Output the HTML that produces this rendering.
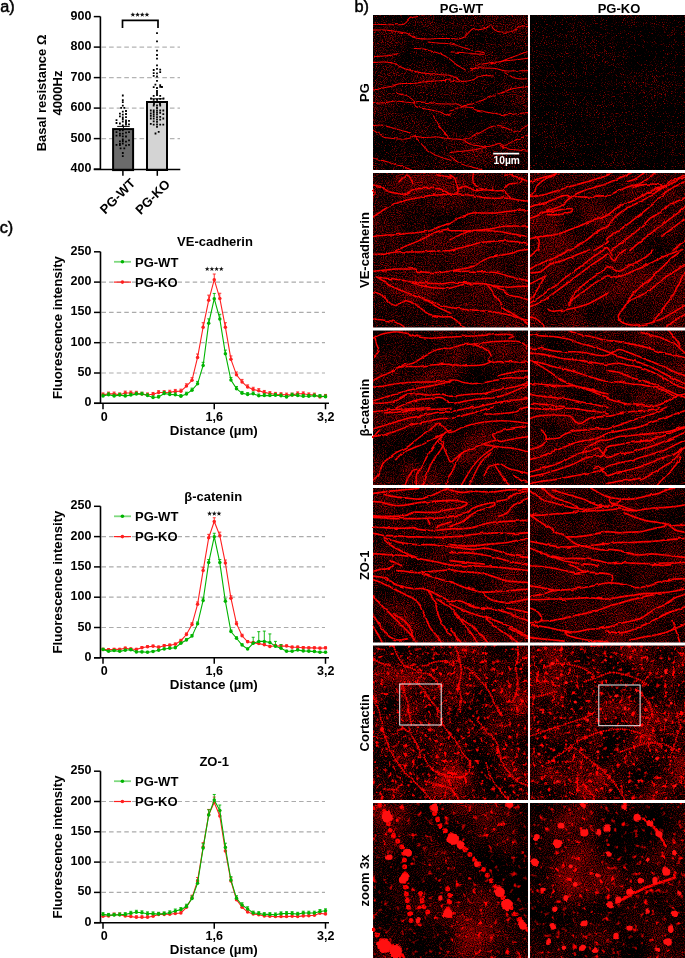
<!DOCTYPE html>
<html><head><meta charset="utf-8"><style>
html,body{margin:0;padding:0;background:#fff;width:685px;height:958px;overflow:hidden}
svg text{font-family:'Liberation Sans',sans-serif;fill:#000}
</style></head><body><svg width="685" height="958" viewBox="0 0 685 958" style="display:block;will-change:transform;font-family:'Liberation Sans',sans-serif;"><defs><filter id="lf" x="-5%" y="-5%" width="110%" height="110%" color-interpolation-filters="sRGB"><feTurbulence type="fractalNoise" baseFrequency="0.13" numOctaves="2" seed="11" result="w"/><feDisplacementMap in="SourceGraphic" in2="w" scale="2.6" xChannelSelector="R" yChannelSelector="G" result="d"/><feTurbulence type="fractalNoise" baseFrequency="0.7" numOctaves="1" seed="4" result="n"/><feColorMatrix in="n" type="matrix" values="0 0 0 0 0  0 0 0 0 0  0 0 0 0 0  2.0 0 0 0 0.05" result="na"/><feComposite in="d" in2="na" operator="in" result="b"/><feGaussianBlur in="b" stdDeviation="0.3"/></filter><filter id="bf" x="-5%" y="-5%" width="110%" height="110%" color-interpolation-filters="sRGB"><feTurbulence type="fractalNoise" baseFrequency="0.08" numOctaves="2" seed="17" result="w"/><feDisplacementMap in="SourceGraphic" in2="w" scale="5" xChannelSelector="R" yChannelSelector="G" result="d"/><feGaussianBlur in="d" stdDeviation="0.6"/></filter><filter id="n00" x="373" y="15" width="155" height="155" filterUnits="userSpaceOnUse" color-interpolation-filters="sRGB"><feTurbulence type="fractalNoise" baseFrequency="0.9" numOctaves="2" seed="1"/><feColorMatrix type="matrix" values="1 0 0 0 0  0 0 0 0 0  0 0 0 0 0  0 0 0 0 1" result="f"/><feTurbulence type="fractalNoise" baseFrequency="0.03" numOctaves="2" seed="4"/><feColorMatrix type="matrix" values="1 0 0 0 0  0 0 0 0 0  0 0 0 0 0  0 0 0 0 1" result="g"/><feComposite in="f" in2="g" operator="arithmetic" k1="0" k2="2.0" k3="0.6" k4="-1.3"/><feColorMatrix type="matrix" values="1 0 0 0 0  0 0 0 0 0  0 0 0 0 0  0 0 0 0 1" result="base"/></filter><filter id="n01" x="530" y="15" width="155" height="155" filterUnits="userSpaceOnUse" color-interpolation-filters="sRGB"><feTurbulence type="fractalNoise" baseFrequency="0.9" numOctaves="2" seed="8"/><feColorMatrix type="matrix" values="1 0 0 0 0  0 0 0 0 0  0 0 0 0 0  0 0 0 0 1" result="f"/><feTurbulence type="fractalNoise" baseFrequency="0.03" numOctaves="2" seed="11"/><feColorMatrix type="matrix" values="1 0 0 0 0  0 0 0 0 0  0 0 0 0 0  0 0 0 0 1" result="g"/><feComposite in="f" in2="g" operator="arithmetic" k1="0" k2="2.5" k3="0.4" k4="-1.65"/><feColorMatrix type="matrix" values="1 0 0 0 0  0 0 0 0 0  0 0 0 0 0  0 0 0 0 1" result="base"/></filter><filter id="n10" x="373" y="172.6" width="155" height="155" filterUnits="userSpaceOnUse" color-interpolation-filters="sRGB"><feTurbulence type="fractalNoise" baseFrequency="0.9" numOctaves="2" seed="15"/><feColorMatrix type="matrix" values="1 0 0 0 0  0 0 0 0 0  0 0 0 0 0  0 0 0 0 1" result="f"/><feTurbulence type="fractalNoise" baseFrequency="0.03" numOctaves="2" seed="18"/><feColorMatrix type="matrix" values="1 0 0 0 0  0 0 0 0 0  0 0 0 0 0  0 0 0 0 1" result="g"/><feComposite in="f" in2="g" operator="arithmetic" k1="0" k2="1.6" k3="0.6" k4="-0.95"/><feColorMatrix type="matrix" values="1 0 0 0 0  0 0 0 0 0  0 0 0 0 0  0 0 0 0 1" result="base"/></filter><filter id="n11" x="530" y="172.6" width="155" height="155" filterUnits="userSpaceOnUse" color-interpolation-filters="sRGB"><feTurbulence type="fractalNoise" baseFrequency="0.9" numOctaves="2" seed="22"/><feColorMatrix type="matrix" values="1 0 0 0 0  0 0 0 0 0  0 0 0 0 0  0 0 0 0 1" result="f"/><feTurbulence type="fractalNoise" baseFrequency="0.03" numOctaves="2" seed="25"/><feColorMatrix type="matrix" values="1 0 0 0 0  0 0 0 0 0  0 0 0 0 0  0 0 0 0 1" result="g"/><feComposite in="f" in2="g" operator="arithmetic" k1="0" k2="1.6" k3="0.6" k4="-0.95"/><feColorMatrix type="matrix" values="1 0 0 0 0  0 0 0 0 0  0 0 0 0 0  0 0 0 0 1" result="base"/></filter><filter id="n20" x="373" y="330.2" width="155" height="155" filterUnits="userSpaceOnUse" color-interpolation-filters="sRGB"><feTurbulence type="fractalNoise" baseFrequency="0.9" numOctaves="2" seed="29"/><feColorMatrix type="matrix" values="1 0 0 0 0  0 0 0 0 0  0 0 0 0 0  0 0 0 0 1" result="f"/><feTurbulence type="fractalNoise" baseFrequency="0.03" numOctaves="2" seed="32"/><feColorMatrix type="matrix" values="1 0 0 0 0  0 0 0 0 0  0 0 0 0 0  0 0 0 0 1" result="g"/><feComposite in="f" in2="g" operator="arithmetic" k1="0" k2="1.6" k3="0.8" k4="-1.11"/><feColorMatrix type="matrix" values="1 0 0 0 0  0 0 0 0 0  0 0 0 0 0  0 0 0 0 1" result="base"/></filter><filter id="n21" x="530" y="330.2" width="155" height="155" filterUnits="userSpaceOnUse" color-interpolation-filters="sRGB"><feTurbulence type="fractalNoise" baseFrequency="0.9" numOctaves="2" seed="36"/><feColorMatrix type="matrix" values="1 0 0 0 0  0 0 0 0 0  0 0 0 0 0  0 0 0 0 1" result="f"/><feTurbulence type="fractalNoise" baseFrequency="0.03" numOctaves="2" seed="39"/><feColorMatrix type="matrix" values="1 0 0 0 0  0 0 0 0 0  0 0 0 0 0  0 0 0 0 1" result="g"/><feComposite in="f" in2="g" operator="arithmetic" k1="0" k2="1.6" k3="0.6" k4="-0.98"/><feColorMatrix type="matrix" values="1 0 0 0 0  0 0 0 0 0  0 0 0 0 0  0 0 0 0 1" result="base"/></filter><filter id="n30" x="373" y="487.8" width="155" height="155" filterUnits="userSpaceOnUse" color-interpolation-filters="sRGB"><feTurbulence type="fractalNoise" baseFrequency="0.9" numOctaves="2" seed="43"/><feColorMatrix type="matrix" values="1 0 0 0 0  0 0 0 0 0  0 0 0 0 0  0 0 0 0 1" result="f"/><feTurbulence type="fractalNoise" baseFrequency="0.03" numOctaves="2" seed="46"/><feColorMatrix type="matrix" values="1 0 0 0 0  0 0 0 0 0  0 0 0 0 0  0 0 0 0 1" result="g"/><feComposite in="f" in2="g" operator="arithmetic" k1="0" k2="1.6" k3="0.6" k4="-0.98"/><feColorMatrix type="matrix" values="1 0 0 0 0  0 0 0 0 0  0 0 0 0 0  0 0 0 0 1" result="base"/></filter><filter id="n31" x="530" y="487.8" width="155" height="155" filterUnits="userSpaceOnUse" color-interpolation-filters="sRGB"><feTurbulence type="fractalNoise" baseFrequency="0.9" numOctaves="2" seed="50"/><feColorMatrix type="matrix" values="1 0 0 0 0  0 0 0 0 0  0 0 0 0 0  0 0 0 0 1" result="f"/><feTurbulence type="fractalNoise" baseFrequency="0.03" numOctaves="2" seed="53"/><feColorMatrix type="matrix" values="1 0 0 0 0  0 0 0 0 0  0 0 0 0 0  0 0 0 0 1" result="g"/><feComposite in="f" in2="g" operator="arithmetic" k1="0" k2="1.6" k3="0.6" k4="-0.98"/><feColorMatrix type="matrix" values="1 0 0 0 0  0 0 0 0 0  0 0 0 0 0  0 0 0 0 1" result="base"/></filter><filter id="n40" x="373" y="645.4" width="155" height="155" filterUnits="userSpaceOnUse" color-interpolation-filters="sRGB"><feTurbulence type="fractalNoise" baseFrequency="0.9" numOctaves="2" seed="57"/><feColorMatrix type="matrix" values="1 0 0 0 0  0 0 0 0 0  0 0 0 0 0  0 0 0 0 1" result="f"/><feTurbulence type="fractalNoise" baseFrequency="0.03" numOctaves="2" seed="60"/><feColorMatrix type="matrix" values="1 0 0 0 0  0 0 0 0 0  0 0 0 0 0  0 0 0 0 1" result="g"/><feComposite in="f" in2="g" operator="arithmetic" k1="0" k2="1.5" k3="1.2" k4="-1.21"/><feColorMatrix type="matrix" values="1 0 0 0 0  0 0 0 0 0  0 0 0 0 0  0 0 0 0 1" result="base"/><feTurbulence type="fractalNoise" baseFrequency="0.25" numOctaves="2" seed="62"/><feColorMatrix type="matrix" values="4.5 0 0 0 -2.61  0 0 0 0 0  0 0 0 0 0  0 0 0 0 1" result="d2"/><feComposite in="base" in2="d2" operator="arithmetic" k1="0" k2="1" k3="1" k4="0"/></filter><filter id="n41" x="530" y="645.4" width="155" height="155" filterUnits="userSpaceOnUse" color-interpolation-filters="sRGB"><feTurbulence type="fractalNoise" baseFrequency="0.9" numOctaves="2" seed="64"/><feColorMatrix type="matrix" values="1 0 0 0 0  0 0 0 0 0  0 0 0 0 0  0 0 0 0 1" result="f"/><feTurbulence type="fractalNoise" baseFrequency="0.03" numOctaves="2" seed="67"/><feColorMatrix type="matrix" values="1 0 0 0 0  0 0 0 0 0  0 0 0 0 0  0 0 0 0 1" result="g"/><feComposite in="f" in2="g" operator="arithmetic" k1="0" k2="1.5" k3="1.2" k4="-1.22"/><feColorMatrix type="matrix" values="1 0 0 0 0  0 0 0 0 0  0 0 0 0 0  0 0 0 0 1" result="base"/><feTurbulence type="fractalNoise" baseFrequency="0.25" numOctaves="2" seed="69"/><feColorMatrix type="matrix" values="4.5 0 0 0 -2.61  0 0 0 0 0  0 0 0 0 0  0 0 0 0 1" result="d2"/><feComposite in="base" in2="d2" operator="arithmetic" k1="0" k2="1" k3="1" k4="0"/></filter><filter id="n50" x="373" y="803" width="155" height="155" filterUnits="userSpaceOnUse" color-interpolation-filters="sRGB"><feTurbulence type="fractalNoise" baseFrequency="0.9" numOctaves="2" seed="71"/><feColorMatrix type="matrix" values="1 0 0 0 0  0 0 0 0 0  0 0 0 0 0  0 0 0 0 1" result="f"/><feTurbulence type="fractalNoise" baseFrequency="0.02" numOctaves="2" seed="74"/><feColorMatrix type="matrix" values="1 0 0 0 0  0 0 0 0 0  0 0 0 0 0  0 0 0 0 1" result="g"/><feComposite in="f" in2="g" operator="arithmetic" k1="0" k2="1.4" k3="1.0" k4="-1.11"/><feColorMatrix type="matrix" values="1 0 0 0 0  0 0 0 0 0  0 0 0 0 0  0 0 0 0 1" result="base"/><feTurbulence type="fractalNoise" baseFrequency="0.18" numOctaves="2" seed="76"/><feColorMatrix type="matrix" values="4.5 0 0 0 -2.79  0 0 0 0 0  0 0 0 0 0  0 0 0 0 1" result="d2"/><feComposite in="base" in2="d2" operator="arithmetic" k1="0" k2="1" k3="1" k4="0"/></filter><filter id="n51" x="530" y="803" width="155" height="155" filterUnits="userSpaceOnUse" color-interpolation-filters="sRGB"><feTurbulence type="fractalNoise" baseFrequency="0.9" numOctaves="2" seed="78"/><feColorMatrix type="matrix" values="1 0 0 0 0  0 0 0 0 0  0 0 0 0 0  0 0 0 0 1" result="f"/><feTurbulence type="fractalNoise" baseFrequency="0.02" numOctaves="2" seed="81"/><feColorMatrix type="matrix" values="1 0 0 0 0  0 0 0 0 0  0 0 0 0 0  0 0 0 0 1" result="g"/><feComposite in="f" in2="g" operator="arithmetic" k1="0" k2="1.4" k3="1.0" k4="-1.13"/><feColorMatrix type="matrix" values="1 0 0 0 0  0 0 0 0 0  0 0 0 0 0  0 0 0 0 1" result="base"/><feTurbulence type="fractalNoise" baseFrequency="0.18" numOctaves="2" seed="83"/><feColorMatrix type="matrix" values="4.5 0 0 0 -2.79  0 0 0 0 0  0 0 0 0 0  0 0 0 0 1" result="d2"/><feComposite in="base" in2="d2" operator="arithmetic" k1="0" k2="1" k3="1" k4="0"/></filter></defs><text x="0.3" y="11.8" style="font-size:16.3px;font-weight:normal;stroke:#000;stroke-width:0.5">a)</text><line x1="101.5" y1="138.6" x2="180" y2="138.6" stroke="#b4b4b4" stroke-width="1.2" stroke-dasharray="4.6 3" /><line x1="101.5" y1="108.1" x2="180" y2="108.1" stroke="#b4b4b4" stroke-width="1.2" stroke-dasharray="4.6 3" /><line x1="101.5" y1="77.6" x2="180" y2="77.6" stroke="#b4b4b4" stroke-width="1.2" stroke-dasharray="4.6 3" /><line x1="101.5" y1="47.1" x2="180" y2="47.1" stroke="#b4b4b4" stroke-width="1.2" stroke-dasharray="4.6 3" /><rect x="113.1" y="129.1" width="20" height="41" fill="#6b6b6b" stroke="#000" stroke-width="2"/><rect x="147" y="102" width="20" height="68" fill="#d4d4d4" stroke="#000" stroke-width="2"/><path d="M117.2 126.4H129.7M123.4 126.4V128" stroke="#000" stroke-width="1"/><path d="M150.4 98.8H164.1M157.2 98.8V101" stroke="#000" stroke-width="1"/><path d="M100.4 16.6V170.2M93.8 169.5H180.3" stroke="#000" stroke-width="1.6" fill="none"/><line x1="93.8" y1="169.1" x2="100.4" y2="169.1" stroke="#000" stroke-width="1.5"/><text x="91.4" y="172.1" text-anchor="end" style="font-size:12.5px;font-weight:bold">400</text><line x1="93.8" y1="138.6" x2="100.4" y2="138.6" stroke="#000" stroke-width="1.5"/><text x="91.4" y="141.6" text-anchor="end" style="font-size:12.5px;font-weight:bold">500</text><line x1="93.8" y1="108.1" x2="100.4" y2="108.1" stroke="#000" stroke-width="1.5"/><text x="91.4" y="111.1" text-anchor="end" style="font-size:12.5px;font-weight:bold">600</text><line x1="93.8" y1="77.6" x2="100.4" y2="77.6" stroke="#000" stroke-width="1.5"/><text x="91.4" y="80.6" text-anchor="end" style="font-size:12.5px;font-weight:bold">700</text><line x1="93.8" y1="47.1" x2="100.4" y2="47.1" stroke="#000" stroke-width="1.5"/><text x="91.4" y="50.1" text-anchor="end" style="font-size:12.5px;font-weight:bold">800</text><line x1="93.8" y1="16.6" x2="100.4" y2="16.6" stroke="#000" stroke-width="1.5"/><text x="91.4" y="19.6" text-anchor="end" style="font-size:12.5px;font-weight:bold">900</text><line x1="122.9" y1="169.5" x2="122.9" y2="175.8" stroke="#000" stroke-width="1.5"/><line x1="157.3" y1="169.5" x2="157.3" y2="175.8" stroke="#000" stroke-width="1.5"/><text transform="translate(136,184) rotate(-45)" text-anchor="end" style="font-size:13px;font-weight:bold">PG-WT</text><text transform="translate(170.8,185) rotate(-45)" text-anchor="end" style="font-size:13px;font-weight:bold">PG-KO</text><text transform="translate(46.2,93) rotate(-90)" text-anchor="middle" style="font-size:13px;font-weight:bold">Basal resistance Ω</text><text transform="translate(61.5,93) rotate(-90)" text-anchor="middle" style="font-size:13px;font-weight:bold">4000Hz</text><path d="M122.5 28V20.3H158V28" stroke="#000" stroke-width="1.7" fill="none"/><polygon points="132.85,12.15 133.47,13.85 135.28,13.91 133.85,15.02 134.35,16.76 132.85,15.75 131.35,16.76 131.85,15.02 130.42,13.91 132.23,13.85" fill="#111"/><polygon points="137.55,12.15 138.17,13.85 139.98,13.91 138.55,15.02 139.05,16.76 137.55,15.75 136.05,16.76 136.55,15.02 135.12,13.91 136.93,13.85" fill="#111"/><polygon points="142.25,12.15 142.87,13.85 144.68,13.91 143.25,15.02 143.75,16.76 142.25,15.75 140.75,16.76 141.25,15.02 139.82,13.91 141.63,13.85" fill="#111"/><polygon points="146.95,12.15 147.57,13.85 149.38,13.91 147.95,15.02 148.45,16.76 146.95,15.75 145.45,16.76 145.95,15.02 144.52,13.91 146.33,13.85" fill="#111"/><path d="M121.9 94.6h1.8v1.8h-1.8zM121.9 99.2h1.8v1.8h-1.8zM121.9 101.2h1.8v1.8h-1.8zM121.9 104.8h1.8v1.8h-1.8zM121.9 110.7h1.8v1.8h-1.8zM121.9 113.8h1.8v1.8h-1.8zM121.9 116.5h1.8v1.8h-1.8zM121.9 118.2h1.8v1.8h-1.8zM121.9 120.6h1.8v1.8h-1.8zM121.9 124.6h1.8v1.8h-1.8zM121.9 129.4h1.8v1.8h-1.8zM121.9 132.8h1.8v1.8h-1.8zM121.9 135.5h1.8v1.8h-1.8zM121.9 138.6h1.8v1.8h-1.8zM121.9 140.3h1.8v1.8h-1.8zM121.9 142.6h1.8v1.8h-1.8zM121.9 152.1h1.8v1.8h-1.8zM121.9 155.2h1.8v1.8h-1.8zM125.1 110.1h1.8v1.8h-1.8zM125.1 113.1h1.8v1.8h-1.8zM125.1 116.2h1.8v1.8h-1.8zM125.1 119.6h1.8v1.8h-1.8zM125.1 121.6h1.8v1.8h-1.8zM125.1 123.6h1.8v1.8h-1.8zM125.1 131.8h1.8v1.8h-1.8zM125.1 135.6h1.8v1.8h-1.8zM125.1 140.8h1.8v1.8h-1.8zM125.1 144.5h1.8v1.8h-1.8zM119 112.8h1.8v1.8h-1.8zM119 115.5h1.8v1.8h-1.8zM119 122.6h1.8v1.8h-1.8zM119 129.4h1.8v1.8h-1.8zM119 132.7h1.8v1.8h-1.8zM119 134.7h1.8v1.8h-1.8zM119 140.4h1.8v1.8h-1.8zM119 143h1.8v1.8h-1.8zM119 144.3h1.8v1.8h-1.8zM115.6 119.2h1.8v1.8h-1.8zM115.6 122.1h1.8v1.8h-1.8zM115.6 131.3h1.8v1.8h-1.8zM115.6 134.7h1.8v1.8h-1.8zM115.6 144h1.8v1.8h-1.8zM128.1 119.9h1.8v1.8h-1.8zM128.1 123.4h1.8v1.8h-1.8zM128.1 131.3h1.8v1.8h-1.8zM128.1 139.4h1.8v1.8h-1.8zM128.1 144h1.8v1.8h-1.8zM120.3 106.9h1.8v1.8h-1.8zM123.4 106.9h1.8v1.8h-1.8zM119.7 147.4h1.8v1.8h-1.8zM123.4 147.4h1.8v1.8h-1.8zM156.1 32.2h1.8v1.8h-1.8zM156.1 40.4h1.8v1.8h-1.8zM156.1 49.8h1.8v1.8h-1.8zM156.1 54.1h1.8v1.8h-1.8zM156.1 57.7h1.8v1.8h-1.8zM156.1 64.5h1.8v1.8h-1.8zM156.1 67.9h1.8v1.8h-1.8zM156.1 72.5h1.8v1.8h-1.8zM156.1 75.6h1.8v1.8h-1.8zM156.1 80h1.8v1.8h-1.8zM156.1 87.1h1.8v1.8h-1.8zM156.1 90h1.8v1.8h-1.8zM156.1 91.3h1.8v1.8h-1.8zM156.1 92.9h1.8v1.8h-1.8zM156.1 94.2h1.8v1.8h-1.8zM156.1 98.8h1.8v1.8h-1.8zM156.1 104.6h1.8v1.8h-1.8zM156.1 107.1h1.8v1.8h-1.8zM156.1 109.6h1.8v1.8h-1.8zM156.1 111.7h1.8v1.8h-1.8zM156.1 113.8h1.8v1.8h-1.8zM156.1 116.3h1.8v1.8h-1.8zM156.1 118.6h1.8v1.8h-1.8zM156.1 120.9h1.8v1.8h-1.8zM156.1 123.6h1.8v1.8h-1.8zM156.1 125.9h1.8v1.8h-1.8zM152.8 69.1h1.8v1.8h-1.8zM152.8 72.3h1.8v1.8h-1.8zM152.8 75h1.8v1.8h-1.8zM152.8 86.3h1.8v1.8h-1.8zM152.8 95h1.8v1.8h-1.8zM152.8 99h1.8v1.8h-1.8zM152.8 104.6h1.8v1.8h-1.8zM152.8 109.6h1.8v1.8h-1.8zM152.8 111.3h1.8v1.8h-1.8zM152.8 113.2h1.8v1.8h-1.8zM152.8 115.2h1.8v1.8h-1.8zM152.8 117.6h1.8v1.8h-1.8zM152.8 120.5h1.8v1.8h-1.8zM152.8 123.8h1.8v1.8h-1.8zM159.3 68.7h1.8v1.8h-1.8zM159.3 71.2h1.8v1.8h-1.8zM159.3 84.2h1.8v1.8h-1.8zM159.3 86h1.8v1.8h-1.8zM159.3 94.9h1.8v1.8h-1.8zM159.3 97.9h1.8v1.8h-1.8zM159.3 104.6h1.8v1.8h-1.8zM159.3 109.6h1.8v1.8h-1.8zM159.3 111.9h1.8v1.8h-1.8zM159.3 115.9h1.8v1.8h-1.8zM159.3 118.8h1.8v1.8h-1.8zM159.3 123.8h1.8v1.8h-1.8zM149.9 109.6h1.8v1.8h-1.8zM149.9 112.6h1.8v1.8h-1.8zM149.9 114.9h1.8v1.8h-1.8zM149.9 117.6h1.8v1.8h-1.8zM149.9 123h1.8v1.8h-1.8zM162.4 109.6h1.8v1.8h-1.8zM162.4 113.2h1.8v1.8h-1.8zM162.4 117.6h1.8v1.8h-1.8zM162.4 123.8h1.8v1.8h-1.8zM154.5 83.7h1.8v1.8h-1.8zM161.1 86.1h1.8v1.8h-1.8zM154.6 132.6h1.8v1.8h-1.8zM157.8 130.9h1.8v1.8h-1.8zM150.1 97.6h1.8v1.8h-1.8zM162.6 97.6h1.8v1.8h-1.8zM153.1 103.1h1.8v1.8h-1.8zM159.1 103.1h1.8v1.8h-1.8z" fill="#000"/><text x="-0.3" y="232.7" style="font-size:16.3px;font-weight:normal;stroke:#000;stroke-width:0.5">c)</text><line x1="101.5" y1="373" x2="325" y2="373" stroke="#ababab" stroke-width="1.2" stroke-dasharray="4.5 3.1" /><line x1="101.5" y1="342.7" x2="325" y2="342.7" stroke="#ababab" stroke-width="1.2" stroke-dasharray="4.5 3.1" /><line x1="101.5" y1="312.4" x2="325" y2="312.4" stroke="#ababab" stroke-width="1.2" stroke-dasharray="4.5 3.1" /><line x1="101.5" y1="282.1" x2="325" y2="282.1" stroke="#ababab" stroke-width="1.2" stroke-dasharray="4.5 3.1" /><path d="M100.5 251.8V403.3M94 403.3H329" stroke="#000" stroke-width="1.6" fill="none"/><line x1="94" y1="403.3" x2="100.5" y2="403.3" stroke="#000" stroke-width="1.5"/><text x="91.4" y="406.3" text-anchor="end" style="font-size:12.5px;font-weight:bold">0</text><line x1="94" y1="373" x2="100.5" y2="373" stroke="#000" stroke-width="1.5"/><text x="91.4" y="376" text-anchor="end" style="font-size:12.5px;font-weight:bold">50</text><line x1="94" y1="342.7" x2="100.5" y2="342.7" stroke="#000" stroke-width="1.5"/><text x="91.4" y="345.7" text-anchor="end" style="font-size:12.5px;font-weight:bold">100</text><line x1="94" y1="312.4" x2="100.5" y2="312.4" stroke="#000" stroke-width="1.5"/><text x="91.4" y="315.4" text-anchor="end" style="font-size:12.5px;font-weight:bold">150</text><line x1="94" y1="282.1" x2="100.5" y2="282.1" stroke="#000" stroke-width="1.5"/><text x="91.4" y="285.1" text-anchor="end" style="font-size:12.5px;font-weight:bold">200</text><line x1="94" y1="251.8" x2="100.5" y2="251.8" stroke="#000" stroke-width="1.5"/><text x="91.4" y="254.8" text-anchor="end" style="font-size:12.5px;font-weight:bold">250</text><line x1="103" y1="403.3" x2="103" y2="409.3" stroke="#000" stroke-width="1.5"/><text x="104.2" y="420.8" text-anchor="middle" style="font-size:12.5px;font-weight:bold">0</text><line x1="214.25" y1="403.3" x2="214.25" y2="409.3" stroke="#000" stroke-width="1.5"/><text x="214.25" y="420.8" text-anchor="middle" style="font-size:12.5px;font-weight:bold">1,6</text><line x1="325.5" y1="403.3" x2="325.5" y2="409.3" stroke="#000" stroke-width="1.5"/><text x="325.8" y="420.8" text-anchor="middle" style="font-size:12.5px;font-weight:bold">3,2</text><text x="213.8" y="434.9" text-anchor="middle" style="font-size:13.4px;font-weight:bold">Distance (µm)</text><text x="215" y="246.4" text-anchor="middle" style="font-size:13px;font-weight:bold">VE-cadherin</text><text transform="translate(62,327.55) rotate(-90)" text-anchor="middle" style="font-size:13.2px;font-weight:bold">Fluorescence intensity</text><line x1="114" y1="261.8" x2="131" y2="261.8" stroke="#7fd97f" stroke-width="1.8"/><circle cx="122.4" cy="261.8" r="1.8" fill="#00b400"/><text x="135" y="266.5" style="font-size:13px;font-weight:bold">PG-WT</text><line x1="114" y1="282.1" x2="131" y2="282.1" stroke="#ff1f1f" stroke-width="1.2"/><circle cx="122.4" cy="282.1" r="1.8" fill="#ff1f1f"/><text x="135" y="286.8" style="font-size:13px;font-weight:bold">PG-KO</text><polyline points="103,394.69 108.56,393.91 114.12,393.91 119.69,394.69 125.25,393 130.81,393 136.38,393.18 141.94,394.09 147.5,394.69 153.06,394.27 158.62,392.57 164.19,392.57 169.75,392.21 175.31,391.42 180.88,391.18 186.44,386.09 192,380.27 197.56,357.49 203.12,327.13 208.69,300.28 214.25,279.68 219.81,298.46 225.38,327.13 230.94,359.37 236.5,374.82 242.06,381.91 247.62,387.12 253.19,389.42 258.75,390.7 264.31,392.39 269.88,393.48 275.44,394.21 281,394.51 286.56,394.88 292.12,394.88 297.69,393.73 303.25,393.73 308.81,394.69 314.38,394.88 319.94,397 325.5,396.09" fill="none" stroke="#ff1f1f" stroke-width="1.1"/><path d="M103 394.69V392.91M101.5 392.91H104.5M108.56 393.91V392.07M107.06 392.07H110.06M114.12 393.91V392.07M112.62 392.07H115.62M119.69 394.69V392.91M118.19 392.91H121.19M125.25 393V391.1M123.75 391.1H126.75M130.81 393V391.1M129.31 391.1H132.31M136.38 393.18V391.3M134.88 391.3H137.88M141.94 394.09V392.27M140.44 392.27H143.44M147.5 394.69V392.91M146 392.91H149M153.06 394.27V392.46M151.56 392.46H154.56M158.62 392.57V390.65M157.12 390.65H160.12M164.19 392.57V390.65M162.69 390.65H165.69M169.75 392.21V390.27M168.25 390.27H171.25M175.31 391.42V389.43M173.81 389.43H176.81M180.88 391.18V389.17M179.38 389.17H182.38M186.44 386.09V383.8M184.94 383.8H187.94M192 380.27V377.7M190.5 377.7H193.5M197.56 357.49V354.01M196.06 354.01H199.06M203.12 327.13V322.69M201.62 322.69H204.62M208.69 300.28V295.13M207.19 295.13H210.19M214.25 279.68V274.02M212.75 274.02H215.75M219.81 298.46V293.26M218.31 293.26H221.31M225.38 327.13V322.69M223.88 322.69H226.88M230.94 359.37V355.95M229.44 355.95H232.44M236.5 374.82V372M235 372H238M242.06 381.91V379.41M240.56 379.41H243.56M247.62 387.12V384.89M246.12 384.89H249.12M253.19 389.42V387.31M251.69 387.31H254.69M258.75 390.7V388.66M257.25 388.66H260.25M264.31 392.39V390.46M262.81 390.46H265.81M269.88 393.48V391.62M268.38 391.62H271.38M275.44 394.21V392.4M273.94 392.4H276.94M281 394.51V392.72M279.5 392.72H282.5M286.56 394.88V393.11M285.06 393.11H288.06M292.12 394.88V393.11M290.62 393.11H293.62M297.69 393.73V391.88M296.19 391.88H299.19M303.25 393.73V391.88M301.75 391.88H304.75M308.81 394.69V392.91M307.31 392.91H310.31M314.38 394.88V393.11M312.88 393.11H315.88M319.94 397V395.38M318.44 395.38H321.44M325.5 396.09V394.41M324 394.41H327" stroke="#ff1f1f" stroke-width="0.9" fill="none"/><circle cx="103" cy="394.69" r="1.75" fill="#ff1f1f"/><circle cx="108.56" cy="393.91" r="1.75" fill="#ff1f1f"/><circle cx="114.12" cy="393.91" r="1.75" fill="#ff1f1f"/><circle cx="119.69" cy="394.69" r="1.75" fill="#ff1f1f"/><circle cx="125.25" cy="393" r="1.75" fill="#ff1f1f"/><circle cx="130.81" cy="393" r="1.75" fill="#ff1f1f"/><circle cx="136.38" cy="393.18" r="1.75" fill="#ff1f1f"/><circle cx="141.94" cy="394.09" r="1.75" fill="#ff1f1f"/><circle cx="147.5" cy="394.69" r="1.75" fill="#ff1f1f"/><circle cx="153.06" cy="394.27" r="1.75" fill="#ff1f1f"/><circle cx="158.62" cy="392.57" r="1.75" fill="#ff1f1f"/><circle cx="164.19" cy="392.57" r="1.75" fill="#ff1f1f"/><circle cx="169.75" cy="392.21" r="1.75" fill="#ff1f1f"/><circle cx="175.31" cy="391.42" r="1.75" fill="#ff1f1f"/><circle cx="180.88" cy="391.18" r="1.75" fill="#ff1f1f"/><circle cx="186.44" cy="386.09" r="1.75" fill="#ff1f1f"/><circle cx="192" cy="380.27" r="1.75" fill="#ff1f1f"/><circle cx="197.56" cy="357.49" r="1.75" fill="#ff1f1f"/><circle cx="203.12" cy="327.13" r="1.75" fill="#ff1f1f"/><circle cx="208.69" cy="300.28" r="1.75" fill="#ff1f1f"/><circle cx="214.25" cy="279.68" r="1.75" fill="#ff1f1f"/><circle cx="219.81" cy="298.46" r="1.75" fill="#ff1f1f"/><circle cx="225.38" cy="327.13" r="1.75" fill="#ff1f1f"/><circle cx="230.94" cy="359.37" r="1.75" fill="#ff1f1f"/><circle cx="236.5" cy="374.82" r="1.75" fill="#ff1f1f"/><circle cx="242.06" cy="381.91" r="1.75" fill="#ff1f1f"/><circle cx="247.62" cy="387.12" r="1.75" fill="#ff1f1f"/><circle cx="253.19" cy="389.42" r="1.75" fill="#ff1f1f"/><circle cx="258.75" cy="390.7" r="1.75" fill="#ff1f1f"/><circle cx="264.31" cy="392.39" r="1.75" fill="#ff1f1f"/><circle cx="269.88" cy="393.48" r="1.75" fill="#ff1f1f"/><circle cx="275.44" cy="394.21" r="1.75" fill="#ff1f1f"/><circle cx="281" cy="394.51" r="1.75" fill="#ff1f1f"/><circle cx="286.56" cy="394.88" r="1.75" fill="#ff1f1f"/><circle cx="292.12" cy="394.88" r="1.75" fill="#ff1f1f"/><circle cx="297.69" cy="393.73" r="1.75" fill="#ff1f1f"/><circle cx="303.25" cy="393.73" r="1.75" fill="#ff1f1f"/><circle cx="308.81" cy="394.69" r="1.75" fill="#ff1f1f"/><circle cx="314.38" cy="394.88" r="1.75" fill="#ff1f1f"/><circle cx="319.94" cy="397" r="1.75" fill="#ff1f1f"/><circle cx="325.5" cy="396.09" r="1.75" fill="#ff1f1f"/><polyline points="103,395.91 108.56,394.69 114.12,395.91 119.69,395.12 125.25,395.91 130.81,395.12 136.38,394.09 141.94,394.09 147.5,395.54 153.06,397.48 158.62,397 164.19,393.48 169.75,394.39 175.31,394.69 180.88,396.27 186.44,394.03 192,390.21 197.56,383.79 203.12,365.49 208.69,323.37 214.25,298.64 219.81,318.94 225.38,353.73 230.94,380.03 236.5,388.63 242.06,393.3 247.62,394.39 253.19,393.79 258.75,395.73 264.31,395.42 269.88,395.6 275.44,395.18 281,395.79 286.56,397 292.12,395 297.69,395.6 303.25,396.21 308.81,396.21 314.38,395.79 319.94,396.21 325.5,396.63" fill="none" stroke="#00b400" stroke-width="1.1"/><path d="M103 395.91V394.21M101.5 394.21H104.5M108.56 394.69V392.91M107.06 392.91H110.06M114.12 395.91V394.21M112.62 394.21H115.62M119.69 395.12V393.37M118.19 393.37H121.19M125.25 395.91V394.21M123.75 394.21H126.75M130.81 395.12V393.37M129.31 393.37H132.31M136.38 394.09V392.27M134.88 392.27H137.88M141.94 394.09V392.27M140.44 392.27H143.44M147.5 395.54V393.82M146 393.82H149M153.06 397.48V395.91M151.56 395.91H154.56M158.62 397V395.38M157.12 395.38H160.12M164.19 393.48V391.62M162.69 391.62H165.69M169.75 394.39V392.59M168.25 392.59H171.25M175.31 394.69V392.91M173.81 392.91H176.81M180.88 396.27V394.6M179.38 394.6H182.38M186.44 394.03V392.2M184.94 392.2H187.94M192 390.21V388.15M190.5 388.15H193.5M197.56 383.79V381.38M196.06 381.38H199.06M203.12 365.49V362.3M201.62 362.3H204.62M208.69 323.37V318.83M207.19 318.83H210.19M214.25 298.64V293.45M212.75 293.45H215.75M219.81 318.94V314.28M218.31 314.28H221.31M225.38 353.73V350.12M223.88 350.12H226.88M230.94 380.03V377.45M229.44 377.45H232.44M236.5 388.63V386.48M235 386.48H238M242.06 393.3V391.43M240.56 391.43H243.56M247.62 394.39V392.59M246.12 392.59H249.12M253.19 393.79V391.94M251.69 391.94H254.69M258.75 395.73V394.02M257.25 394.02H260.25M264.31 395.42V393.69M262.81 393.69H265.81M269.88 395.6V393.89M268.38 393.89H271.38M275.44 395.18V393.43M273.94 393.43H276.94M281 395.79V394.08M279.5 394.08H282.5M286.56 397V395.38M285.06 395.38H288.06M292.12 395V393.24M290.62 393.24H293.62M297.69 395.6V393.89M296.19 393.89H299.19M303.25 396.21V394.54M301.75 394.54H304.75M308.81 396.21V394.54M307.31 394.54H310.31M314.38 395.79V394.08M312.88 394.08H315.88M319.94 396.21V394.54M318.44 394.54H321.44M325.5 396.63V394.99M324 394.99H327" stroke="#00b400" stroke-width="0.9" fill="none"/><circle cx="103" cy="395.91" r="1.75" fill="#00b400"/><circle cx="108.56" cy="394.69" r="1.75" fill="#00b400"/><circle cx="114.12" cy="395.91" r="1.75" fill="#00b400"/><circle cx="119.69" cy="395.12" r="1.75" fill="#00b400"/><circle cx="125.25" cy="395.91" r="1.75" fill="#00b400"/><circle cx="130.81" cy="395.12" r="1.75" fill="#00b400"/><circle cx="136.38" cy="394.09" r="1.75" fill="#00b400"/><circle cx="141.94" cy="394.09" r="1.75" fill="#00b400"/><circle cx="147.5" cy="395.54" r="1.75" fill="#00b400"/><circle cx="153.06" cy="397.48" r="1.75" fill="#00b400"/><circle cx="158.62" cy="397" r="1.75" fill="#00b400"/><circle cx="164.19" cy="393.48" r="1.75" fill="#00b400"/><circle cx="169.75" cy="394.39" r="1.75" fill="#00b400"/><circle cx="175.31" cy="394.69" r="1.75" fill="#00b400"/><circle cx="180.88" cy="396.27" r="1.75" fill="#00b400"/><circle cx="186.44" cy="394.03" r="1.75" fill="#00b400"/><circle cx="192" cy="390.21" r="1.75" fill="#00b400"/><circle cx="197.56" cy="383.79" r="1.75" fill="#00b400"/><circle cx="203.12" cy="365.49" r="1.75" fill="#00b400"/><circle cx="208.69" cy="323.37" r="1.75" fill="#00b400"/><circle cx="214.25" cy="298.64" r="1.75" fill="#00b400"/><circle cx="219.81" cy="318.94" r="1.75" fill="#00b400"/><circle cx="225.38" cy="353.73" r="1.75" fill="#00b400"/><circle cx="230.94" cy="380.03" r="1.75" fill="#00b400"/><circle cx="236.5" cy="388.63" r="1.75" fill="#00b400"/><circle cx="242.06" cy="393.3" r="1.75" fill="#00b400"/><circle cx="247.62" cy="394.39" r="1.75" fill="#00b400"/><circle cx="253.19" cy="393.79" r="1.75" fill="#00b400"/><circle cx="258.75" cy="395.73" r="1.75" fill="#00b400"/><circle cx="264.31" cy="395.42" r="1.75" fill="#00b400"/><circle cx="269.88" cy="395.6" r="1.75" fill="#00b400"/><circle cx="275.44" cy="395.18" r="1.75" fill="#00b400"/><circle cx="281" cy="395.79" r="1.75" fill="#00b400"/><circle cx="286.56" cy="397" r="1.75" fill="#00b400"/><circle cx="292.12" cy="395" r="1.75" fill="#00b400"/><circle cx="297.69" cy="395.6" r="1.75" fill="#00b400"/><circle cx="303.25" cy="396.21" r="1.75" fill="#00b400"/><circle cx="308.81" cy="396.21" r="1.75" fill="#00b400"/><circle cx="314.38" cy="395.79" r="1.75" fill="#00b400"/><circle cx="319.94" cy="396.21" r="1.75" fill="#00b400"/><circle cx="325.5" cy="396.63" r="1.75" fill="#00b400"/><polygon points="207.2,266.45 207.82,268.15 209.63,268.21 208.2,269.32 208.7,271.06 207.2,270.05 205.7,271.06 206.2,269.32 204.77,268.21 206.58,268.15" fill="#111"/><polygon points="211.9,266.45 212.52,268.15 214.33,268.21 212.9,269.32 213.4,271.06 211.9,270.05 210.4,271.06 210.9,269.32 209.47,268.21 211.28,268.15" fill="#111"/><polygon points="216.6,266.45 217.22,268.15 219.03,268.21 217.6,269.32 218.1,271.06 216.6,270.05 215.1,271.06 215.6,269.32 214.17,268.21 215.98,268.15" fill="#111"/><polygon points="221.3,266.45 221.92,268.15 223.73,268.21 222.3,269.32 222.8,271.06 221.3,270.05 219.8,271.06 220.3,269.32 218.87,268.21 220.68,268.15" fill="#111"/><line x1="101.5" y1="627.5" x2="325" y2="627.5" stroke="#ababab" stroke-width="1.2" stroke-dasharray="4.5 3.1" /><line x1="101.5" y1="597.2" x2="325" y2="597.2" stroke="#ababab" stroke-width="1.2" stroke-dasharray="4.5 3.1" /><line x1="101.5" y1="566.9" x2="325" y2="566.9" stroke="#ababab" stroke-width="1.2" stroke-dasharray="4.5 3.1" /><line x1="101.5" y1="536.6" x2="325" y2="536.6" stroke="#ababab" stroke-width="1.2" stroke-dasharray="4.5 3.1" /><path d="M100.5 506.3V657.8M94 657.8H329" stroke="#000" stroke-width="1.6" fill="none"/><line x1="94" y1="657.8" x2="100.5" y2="657.8" stroke="#000" stroke-width="1.5"/><text x="91.4" y="660.8" text-anchor="end" style="font-size:12.5px;font-weight:bold">0</text><line x1="94" y1="627.5" x2="100.5" y2="627.5" stroke="#000" stroke-width="1.5"/><text x="91.4" y="630.5" text-anchor="end" style="font-size:12.5px;font-weight:bold">50</text><line x1="94" y1="597.2" x2="100.5" y2="597.2" stroke="#000" stroke-width="1.5"/><text x="91.4" y="600.2" text-anchor="end" style="font-size:12.5px;font-weight:bold">100</text><line x1="94" y1="566.9" x2="100.5" y2="566.9" stroke="#000" stroke-width="1.5"/><text x="91.4" y="569.9" text-anchor="end" style="font-size:12.5px;font-weight:bold">150</text><line x1="94" y1="536.6" x2="100.5" y2="536.6" stroke="#000" stroke-width="1.5"/><text x="91.4" y="539.6" text-anchor="end" style="font-size:12.5px;font-weight:bold">200</text><line x1="94" y1="506.3" x2="100.5" y2="506.3" stroke="#000" stroke-width="1.5"/><text x="91.4" y="509.3" text-anchor="end" style="font-size:12.5px;font-weight:bold">250</text><line x1="103" y1="657.8" x2="103" y2="663.8" stroke="#000" stroke-width="1.5"/><text x="104.2" y="675.3" text-anchor="middle" style="font-size:12.5px;font-weight:bold">0</text><line x1="214.25" y1="657.8" x2="214.25" y2="663.8" stroke="#000" stroke-width="1.5"/><text x="214.25" y="675.3" text-anchor="middle" style="font-size:12.5px;font-weight:bold">1,6</text><line x1="325.5" y1="657.8" x2="325.5" y2="663.8" stroke="#000" stroke-width="1.5"/><text x="325.8" y="675.3" text-anchor="middle" style="font-size:12.5px;font-weight:bold">3,2</text><text x="213.8" y="689.4" text-anchor="middle" style="font-size:13.4px;font-weight:bold">Distance (µm)</text><text x="213.2" y="500.9" text-anchor="middle" style="font-size:13px;font-weight:bold">β-catenin</text><text transform="translate(62,582.05) rotate(-90)" text-anchor="middle" style="font-size:13.2px;font-weight:bold">Fluorescence intensity</text><line x1="114" y1="516.3" x2="131" y2="516.3" stroke="#7fd97f" stroke-width="1.8"/><circle cx="122.4" cy="516.3" r="1.8" fill="#00b400"/><text x="135" y="521" style="font-size:13px;font-weight:bold">PG-WT</text><line x1="114" y1="536.6" x2="131" y2="536.6" stroke="#ff1f1f" stroke-width="1.2"/><circle cx="122.4" cy="536.6" r="1.8" fill="#ff1f1f"/><text x="135" y="541.3" style="font-size:13px;font-weight:bold">PG-KO</text><polyline points="103,649.38 108.56,649.68 114.12,649.38 119.69,649.38 125.25,648.23 130.81,649.07 136.38,649.38 141.94,647.68 147.5,646.83 153.06,646.23 158.62,647.19 164.19,645.8 169.75,645.32 175.31,644.29 180.88,640.71 186.44,634.53 192,624.59 197.56,604.29 203.12,570.6 208.69,537.81 214.25,521.45 219.81,535.63 225.38,563.08 230.94,598.23 236.5,623.68 242.06,635.8 247.62,641.86 253.19,642.83 258.75,643.62 264.31,644.71 269.88,646.53 275.44,645.8 281,646.1 286.56,646.1 292.12,647.19 297.69,647.19 303.25,647.68 308.81,647.92 314.38,647.92 319.94,648.23 325.5,647.92" fill="none" stroke="#ff1f1f" stroke-width="1.1"/><path d="M103 649.38V648.28M101.5 648.28H104.5M108.56 649.68V648.6M107.06 648.6H110.06M114.12 649.38V648.28M112.62 648.28H115.62M119.69 649.38V648.28M118.19 648.28H121.19M125.25 648.23V647.08M123.75 647.08H126.75M130.81 649.07V647.96M129.31 647.96H132.31M136.38 649.38V648.28M134.88 648.28H137.88M141.94 647.68V646.51M140.44 646.51H143.44M147.5 646.83V645.63M146 645.63H149M153.06 646.23V645M151.56 645H154.56M158.62 647.19V646.01M157.12 646.01H160.12M164.19 645.8V644.56M162.69 644.56H165.69M169.75 645.32V644.06M168.25 644.06H171.25M175.31 644.29V642.99M173.81 642.99H176.81M180.88 640.71V639.3M179.38 639.3H182.38M186.44 634.53V632.93M184.94 632.93H187.94M192 624.59V622.73M190.5 622.73H193.5M197.56 604.29V601.97M196.06 601.97H199.06M203.12 570.6V567.66M201.62 567.66H204.62M208.69 537.81V534.36M207.19 534.36H210.19M214.25 521.45V517.76M212.75 517.76H215.75M219.81 535.63V532.14M218.31 532.14H221.31M225.38 563.08V560.02M223.88 560.02H226.88M230.94 598.23V595.79M229.44 595.79H232.44M236.5 623.68V621.8M235 621.8H238M242.06 635.8V634.24M240.56 634.24H243.56M247.62 641.86V640.49M246.12 640.49H249.12M253.19 642.83V641.49M251.69 641.49H254.69M258.75 643.62V642.3M257.25 642.3H260.25M264.31 644.71V643.43M262.81 643.43H265.81M269.88 646.53V645.32M268.38 645.32H271.38M275.44 645.8V644.56M273.94 644.56H276.94M281 646.1V644.88M279.5 644.88H282.5M286.56 646.1V644.88M285.06 644.88H288.06M292.12 647.19V646.01M290.62 646.01H293.62M297.69 647.19V646.01M296.19 646.01H299.19M303.25 647.68V646.51M301.75 646.51H304.75M308.81 647.92V646.77M307.31 646.77H310.31M314.38 647.92V646.77M312.88 646.77H315.88M319.94 648.23V647.08M318.44 647.08H321.44M325.5 647.92V646.77M324 646.77H327" stroke="#ff1f1f" stroke-width="0.9" fill="none"/><circle cx="103" cy="649.38" r="1.75" fill="#ff1f1f"/><circle cx="108.56" cy="649.68" r="1.75" fill="#ff1f1f"/><circle cx="114.12" cy="649.38" r="1.75" fill="#ff1f1f"/><circle cx="119.69" cy="649.38" r="1.75" fill="#ff1f1f"/><circle cx="125.25" cy="648.23" r="1.75" fill="#ff1f1f"/><circle cx="130.81" cy="649.07" r="1.75" fill="#ff1f1f"/><circle cx="136.38" cy="649.38" r="1.75" fill="#ff1f1f"/><circle cx="141.94" cy="647.68" r="1.75" fill="#ff1f1f"/><circle cx="147.5" cy="646.83" r="1.75" fill="#ff1f1f"/><circle cx="153.06" cy="646.23" r="1.75" fill="#ff1f1f"/><circle cx="158.62" cy="647.19" r="1.75" fill="#ff1f1f"/><circle cx="164.19" cy="645.8" r="1.75" fill="#ff1f1f"/><circle cx="169.75" cy="645.32" r="1.75" fill="#ff1f1f"/><circle cx="175.31" cy="644.29" r="1.75" fill="#ff1f1f"/><circle cx="180.88" cy="640.71" r="1.75" fill="#ff1f1f"/><circle cx="186.44" cy="634.53" r="1.75" fill="#ff1f1f"/><circle cx="192" cy="624.59" r="1.75" fill="#ff1f1f"/><circle cx="197.56" cy="604.29" r="1.75" fill="#ff1f1f"/><circle cx="203.12" cy="570.6" r="1.75" fill="#ff1f1f"/><circle cx="208.69" cy="537.81" r="1.75" fill="#ff1f1f"/><circle cx="214.25" cy="521.45" r="1.75" fill="#ff1f1f"/><circle cx="219.81" cy="535.63" r="1.75" fill="#ff1f1f"/><circle cx="225.38" cy="563.08" r="1.75" fill="#ff1f1f"/><circle cx="230.94" cy="598.23" r="1.75" fill="#ff1f1f"/><circle cx="236.5" cy="623.68" r="1.75" fill="#ff1f1f"/><circle cx="242.06" cy="635.8" r="1.75" fill="#ff1f1f"/><circle cx="247.62" cy="641.86" r="1.75" fill="#ff1f1f"/><circle cx="253.19" cy="642.83" r="1.75" fill="#ff1f1f"/><circle cx="258.75" cy="643.62" r="1.75" fill="#ff1f1f"/><circle cx="264.31" cy="644.71" r="1.75" fill="#ff1f1f"/><circle cx="269.88" cy="646.53" r="1.75" fill="#ff1f1f"/><circle cx="275.44" cy="645.8" r="1.75" fill="#ff1f1f"/><circle cx="281" cy="646.1" r="1.75" fill="#ff1f1f"/><circle cx="286.56" cy="646.1" r="1.75" fill="#ff1f1f"/><circle cx="292.12" cy="647.19" r="1.75" fill="#ff1f1f"/><circle cx="297.69" cy="647.19" r="1.75" fill="#ff1f1f"/><circle cx="303.25" cy="647.68" r="1.75" fill="#ff1f1f"/><circle cx="308.81" cy="647.92" r="1.75" fill="#ff1f1f"/><circle cx="314.38" cy="647.92" r="1.75" fill="#ff1f1f"/><circle cx="319.94" cy="648.23" r="1.75" fill="#ff1f1f"/><circle cx="325.5" cy="647.92" r="1.75" fill="#ff1f1f"/><polyline points="103,649.38 108.56,651.32 114.12,650.59 119.69,651.32 125.25,650.29 130.81,649.68 136.38,651.92 141.94,651.92 147.5,652.29 153.06,651.5 158.62,650.29 164.19,649.07 169.75,648.23 175.31,647.68 180.88,643.32 186.44,639.92 192,636.11 197.56,623.86 203.12,600.47 208.69,562.6 214.25,536.72 219.81,562.6 225.38,601.32 230.94,631.62 236.5,638.23 242.06,645.01 247.62,649.07 253.19,643.32 258.75,641.38 264.31,641.38 269.88,642.41 275.44,646.23 281,648.23 286.56,651.19 292.12,651.19 297.69,650.1 303.25,650.89 308.81,651.13 314.38,651.62 319.94,652.29 325.5,652.29" fill="none" stroke="#00b400" stroke-width="1.1"/><path d="M103 649.38V648.28M101.5 648.28H104.5M108.56 651.32V650.31M107.06 650.31H110.06M114.12 650.59V649.55M112.62 649.55H115.62M119.69 651.32V650.31M118.19 650.31H121.19M125.25 650.29V649.23M123.75 649.23H126.75M130.81 649.68V648.6M129.31 648.6H132.31M136.38 651.92V650.94M134.88 650.94H137.88M141.94 651.92V650.94M140.44 650.94H143.44M147.5 652.29V651.32M146 651.32H149M153.06 651.5V650.5M151.56 650.5H154.56M158.62 650.29V649.23M157.12 649.23H160.12M164.19 649.07V647.96M162.69 647.96H165.69M169.75 648.23V647.08M168.25 647.08H171.25M175.31 647.68V646.51M173.81 646.51H176.81M180.88 643.32V641.99M179.38 641.99H182.38M186.44 639.92V638.48M184.94 638.48H187.94M192 636.11V634.55M190.5 634.55H193.5M197.56 623.86V621.98M196.06 621.98H199.06M203.12 600.47V598.08M201.62 598.08H204.62M208.69 562.6V559.53M207.19 559.53H210.19M214.25 536.72V533.25M212.75 533.25H215.75M219.81 562.6V559.53M218.31 559.53H221.31M225.38 601.32V598.94M223.88 598.94H226.88M230.94 631.62V629.94M229.44 629.94H232.44M236.5 638.23V636.73M235 636.73H238M242.06 645.01V643.75M240.56 643.75H243.56M247.62 649.07V647.96M246.12 647.96H249.12M253.19 643.32V637.26M251.69 637.26H254.69M258.75 641.38V631.68M257.25 631.68H260.25M264.31 641.38V631.08M262.81 631.08H265.81M269.88 642.41V633.92M268.38 633.92H271.38M275.44 646.23V641.38M273.94 641.38H276.94M281 648.23V644.59M279.5 644.59H282.5M286.56 651.19V650.18M285.06 650.18H288.06M292.12 651.19V650.18M290.62 650.18H293.62M297.69 650.1V649.04M296.19 649.04H299.19M303.25 650.89V649.86M301.75 649.86H304.75M308.81 651.13V650.12M307.31 650.12H310.31M314.38 651.62V650.62M312.88 650.62H315.88M319.94 652.29V651.32M318.44 651.32H321.44M325.5 652.29V651.32M324 651.32H327" stroke="#00b400" stroke-width="0.9" fill="none"/><circle cx="103" cy="649.38" r="1.75" fill="#00b400"/><circle cx="108.56" cy="651.32" r="1.75" fill="#00b400"/><circle cx="114.12" cy="650.59" r="1.75" fill="#00b400"/><circle cx="119.69" cy="651.32" r="1.75" fill="#00b400"/><circle cx="125.25" cy="650.29" r="1.75" fill="#00b400"/><circle cx="130.81" cy="649.68" r="1.75" fill="#00b400"/><circle cx="136.38" cy="651.92" r="1.75" fill="#00b400"/><circle cx="141.94" cy="651.92" r="1.75" fill="#00b400"/><circle cx="147.5" cy="652.29" r="1.75" fill="#00b400"/><circle cx="153.06" cy="651.5" r="1.75" fill="#00b400"/><circle cx="158.62" cy="650.29" r="1.75" fill="#00b400"/><circle cx="164.19" cy="649.07" r="1.75" fill="#00b400"/><circle cx="169.75" cy="648.23" r="1.75" fill="#00b400"/><circle cx="175.31" cy="647.68" r="1.75" fill="#00b400"/><circle cx="180.88" cy="643.32" r="1.75" fill="#00b400"/><circle cx="186.44" cy="639.92" r="1.75" fill="#00b400"/><circle cx="192" cy="636.11" r="1.75" fill="#00b400"/><circle cx="197.56" cy="623.86" r="1.75" fill="#00b400"/><circle cx="203.12" cy="600.47" r="1.75" fill="#00b400"/><circle cx="208.69" cy="562.6" r="1.75" fill="#00b400"/><circle cx="214.25" cy="536.72" r="1.75" fill="#00b400"/><circle cx="219.81" cy="562.6" r="1.75" fill="#00b400"/><circle cx="225.38" cy="601.32" r="1.75" fill="#00b400"/><circle cx="230.94" cy="631.62" r="1.75" fill="#00b400"/><circle cx="236.5" cy="638.23" r="1.75" fill="#00b400"/><circle cx="242.06" cy="645.01" r="1.75" fill="#00b400"/><circle cx="247.62" cy="649.07" r="1.75" fill="#00b400"/><circle cx="253.19" cy="643.32" r="1.75" fill="#00b400"/><circle cx="258.75" cy="641.38" r="1.75" fill="#00b400"/><circle cx="264.31" cy="641.38" r="1.75" fill="#00b400"/><circle cx="269.88" cy="642.41" r="1.75" fill="#00b400"/><circle cx="275.44" cy="646.23" r="1.75" fill="#00b400"/><circle cx="281" cy="648.23" r="1.75" fill="#00b400"/><circle cx="286.56" cy="651.19" r="1.75" fill="#00b400"/><circle cx="292.12" cy="651.19" r="1.75" fill="#00b400"/><circle cx="297.69" cy="650.1" r="1.75" fill="#00b400"/><circle cx="303.25" cy="650.89" r="1.75" fill="#00b400"/><circle cx="308.81" cy="651.13" r="1.75" fill="#00b400"/><circle cx="314.38" cy="651.62" r="1.75" fill="#00b400"/><circle cx="319.94" cy="652.29" r="1.75" fill="#00b400"/><circle cx="325.5" cy="652.29" r="1.75" fill="#00b400"/><polygon points="209.55,511.05 210.17,512.75 211.98,512.81 210.55,513.92 211.05,515.66 209.55,514.65 208.05,515.66 208.55,513.92 207.12,512.81 208.93,512.75" fill="#111"/><polygon points="214.25,511.05 214.87,512.75 216.68,512.81 215.25,513.92 215.75,515.66 214.25,514.65 212.75,515.66 213.25,513.92 211.82,512.81 213.63,512.75" fill="#111"/><polygon points="218.95,511.05 219.57,512.75 221.38,512.81 219.95,513.92 220.45,515.66 218.95,514.65 217.45,515.66 217.95,513.92 216.52,512.81 218.33,512.75" fill="#111"/><line x1="101.5" y1="892.4" x2="325" y2="892.4" stroke="#ababab" stroke-width="1.2" stroke-dasharray="4.5 3.1" /><line x1="101.5" y1="862.1" x2="325" y2="862.1" stroke="#ababab" stroke-width="1.2" stroke-dasharray="4.5 3.1" /><line x1="101.5" y1="831.8" x2="325" y2="831.8" stroke="#ababab" stroke-width="1.2" stroke-dasharray="4.5 3.1" /><line x1="101.5" y1="801.5" x2="325" y2="801.5" stroke="#ababab" stroke-width="1.2" stroke-dasharray="4.5 3.1" /><path d="M100.5 771.2V922.7M94 922.7H329" stroke="#000" stroke-width="1.6" fill="none"/><line x1="94" y1="922.7" x2="100.5" y2="922.7" stroke="#000" stroke-width="1.5"/><text x="91.4" y="925.7" text-anchor="end" style="font-size:12.5px;font-weight:bold">0</text><line x1="94" y1="892.4" x2="100.5" y2="892.4" stroke="#000" stroke-width="1.5"/><text x="91.4" y="895.4" text-anchor="end" style="font-size:12.5px;font-weight:bold">50</text><line x1="94" y1="862.1" x2="100.5" y2="862.1" stroke="#000" stroke-width="1.5"/><text x="91.4" y="865.1" text-anchor="end" style="font-size:12.5px;font-weight:bold">100</text><line x1="94" y1="831.8" x2="100.5" y2="831.8" stroke="#000" stroke-width="1.5"/><text x="91.4" y="834.8" text-anchor="end" style="font-size:12.5px;font-weight:bold">150</text><line x1="94" y1="801.5" x2="100.5" y2="801.5" stroke="#000" stroke-width="1.5"/><text x="91.4" y="804.5" text-anchor="end" style="font-size:12.5px;font-weight:bold">200</text><line x1="94" y1="771.2" x2="100.5" y2="771.2" stroke="#000" stroke-width="1.5"/><text x="91.4" y="774.2" text-anchor="end" style="font-size:12.5px;font-weight:bold">250</text><line x1="103" y1="922.7" x2="103" y2="928.7" stroke="#000" stroke-width="1.5"/><text x="104.2" y="940.2" text-anchor="middle" style="font-size:12.5px;font-weight:bold">0</text><line x1="214.25" y1="922.7" x2="214.25" y2="928.7" stroke="#000" stroke-width="1.5"/><text x="214.25" y="940.2" text-anchor="middle" style="font-size:12.5px;font-weight:bold">1,6</text><line x1="325.5" y1="922.7" x2="325.5" y2="928.7" stroke="#000" stroke-width="1.5"/><text x="325.8" y="940.2" text-anchor="middle" style="font-size:12.5px;font-weight:bold">3,2</text><text x="213.8" y="954.3" text-anchor="middle" style="font-size:13.4px;font-weight:bold">Distance (µm)</text><text x="214.2" y="765.8" text-anchor="middle" style="font-size:13px;font-weight:bold">ZO-1</text><text transform="translate(62,846.95) rotate(-90)" text-anchor="middle" style="font-size:13.2px;font-weight:bold">Fluorescence intensity</text><line x1="114" y1="781.2" x2="131" y2="781.2" stroke="#7fd97f" stroke-width="1.8"/><circle cx="122.4" cy="781.2" r="1.8" fill="#00b400"/><text x="135" y="785.9" style="font-size:13px;font-weight:bold">PG-WT</text><line x1="114" y1="801.5" x2="131" y2="801.5" stroke="#ff1f1f" stroke-width="1.2"/><circle cx="122.4" cy="801.5" r="1.8" fill="#ff1f1f"/><text x="135" y="806.2" style="font-size:13px;font-weight:bold">PG-KO</text><polyline points="103,916.28 108.56,915.91 114.12,914.7 119.69,914.7 125.25,915.91 130.81,916.58 136.38,917.31 141.94,917.31 147.5,917.31 153.06,916.28 158.62,914.4 164.19,914.4 169.75,914.22 175.31,913.49 180.88,913 186.44,907.37 192,897.85 197.56,880.89 203.12,847.07 208.69,814.71 214.25,802.59 219.81,815.92 225.38,851.01 230.94,881.01 236.5,899.67 242.06,907.25 247.62,912.1 253.19,914.03 258.75,914.82 264.31,915.91 269.88,916.22 275.44,916.58 281,916.58 286.56,916.58 292.12,916.28 297.69,916.58 303.25,915.91 308.81,915.67 314.38,915.25 319.94,913.31 325.5,914.09" fill="none" stroke="#ff1f1f" stroke-width="1.1"/><path d="M103 916.28V914.65M101.5 914.65H104.5M108.56 915.91V914.26M107.06 914.26H110.06M114.12 914.7V912.96M112.62 912.96H115.62M119.69 914.7V912.96M118.19 912.96H121.19M125.25 915.91V914.26M123.75 914.26H126.75M130.81 916.58V914.98M129.31 914.98H132.31M136.38 917.31V915.76M134.88 915.76H137.88M141.94 917.31V915.76M140.44 915.76H143.44M147.5 917.31V915.76M146 915.76H149M153.06 916.28V914.65M151.56 914.65H154.56M158.62 914.4V912.64M157.12 912.64H160.12M164.19 914.4V912.64M162.69 912.64H165.69M169.75 914.22V912.44M168.25 912.44H171.25M175.31 913.49V911.67M173.81 911.67H176.81M180.88 913V911.15M179.38 911.15H182.38M186.44 907.37V905.18M184.94 905.18H187.94M192 897.85V895.2M190.5 895.2H193.5M197.56 880.89V877.55M196.06 877.55H199.06M203.12 847.07V842.65M201.62 842.65H204.62M208.69 814.71V809.43M207.19 809.43H210.19M214.25 802.59V797.02M212.75 797.02H215.75M219.81 815.92V810.67M218.31 810.67H221.31M225.38 851.01V846.71M223.88 846.71H226.88M230.94 881.01V877.68M229.44 877.68H232.44M236.5 899.67V897.1M235 897.1H238M242.06 907.25V905.05M240.56 905.05H243.56M247.62 912.1V910.18M246.12 910.18H249.12M253.19 914.03V912.25M251.69 912.25H254.69M258.75 914.82V913.09M257.25 913.09H260.25M264.31 915.91V914.26M262.81 914.26H265.81M269.88 916.22V914.59M268.38 914.59H271.38M275.44 916.58V914.98M273.94 914.98H276.94M281 916.58V914.98M279.5 914.98H282.5M286.56 916.58V914.98M285.06 914.98H288.06M292.12 916.28V914.65M290.62 914.65H293.62M297.69 916.58V914.98M296.19 914.98H299.19M303.25 915.91V914.26M301.75 914.26H304.75M308.81 915.67V914M307.31 914H310.31M314.38 915.25V913.55M312.88 913.55H315.88M319.94 913.31V911.47M318.44 911.47H321.44M325.5 914.09V912.31M324 912.31H327" stroke="#ff1f1f" stroke-width="0.9" fill="none"/><circle cx="103" cy="916.28" r="1.75" fill="#ff1f1f"/><circle cx="108.56" cy="915.91" r="1.75" fill="#ff1f1f"/><circle cx="114.12" cy="914.7" r="1.75" fill="#ff1f1f"/><circle cx="119.69" cy="914.7" r="1.75" fill="#ff1f1f"/><circle cx="125.25" cy="915.91" r="1.75" fill="#ff1f1f"/><circle cx="130.81" cy="916.58" r="1.75" fill="#ff1f1f"/><circle cx="136.38" cy="917.31" r="1.75" fill="#ff1f1f"/><circle cx="141.94" cy="917.31" r="1.75" fill="#ff1f1f"/><circle cx="147.5" cy="917.31" r="1.75" fill="#ff1f1f"/><circle cx="153.06" cy="916.28" r="1.75" fill="#ff1f1f"/><circle cx="158.62" cy="914.4" r="1.75" fill="#ff1f1f"/><circle cx="164.19" cy="914.4" r="1.75" fill="#ff1f1f"/><circle cx="169.75" cy="914.22" r="1.75" fill="#ff1f1f"/><circle cx="175.31" cy="913.49" r="1.75" fill="#ff1f1f"/><circle cx="180.88" cy="913" r="1.75" fill="#ff1f1f"/><circle cx="186.44" cy="907.37" r="1.75" fill="#ff1f1f"/><circle cx="192" cy="897.85" r="1.75" fill="#ff1f1f"/><circle cx="197.56" cy="880.89" r="1.75" fill="#ff1f1f"/><circle cx="203.12" cy="847.07" r="1.75" fill="#ff1f1f"/><circle cx="208.69" cy="814.71" r="1.75" fill="#ff1f1f"/><circle cx="214.25" cy="802.59" r="1.75" fill="#ff1f1f"/><circle cx="219.81" cy="815.92" r="1.75" fill="#ff1f1f"/><circle cx="225.38" cy="851.01" r="1.75" fill="#ff1f1f"/><circle cx="230.94" cy="881.01" r="1.75" fill="#ff1f1f"/><circle cx="236.5" cy="899.67" r="1.75" fill="#ff1f1f"/><circle cx="242.06" cy="907.25" r="1.75" fill="#ff1f1f"/><circle cx="247.62" cy="912.1" r="1.75" fill="#ff1f1f"/><circle cx="253.19" cy="914.03" r="1.75" fill="#ff1f1f"/><circle cx="258.75" cy="914.82" r="1.75" fill="#ff1f1f"/><circle cx="264.31" cy="915.91" r="1.75" fill="#ff1f1f"/><circle cx="269.88" cy="916.22" r="1.75" fill="#ff1f1f"/><circle cx="275.44" cy="916.58" r="1.75" fill="#ff1f1f"/><circle cx="281" cy="916.58" r="1.75" fill="#ff1f1f"/><circle cx="286.56" cy="916.58" r="1.75" fill="#ff1f1f"/><circle cx="292.12" cy="916.28" r="1.75" fill="#ff1f1f"/><circle cx="297.69" cy="916.58" r="1.75" fill="#ff1f1f"/><circle cx="303.25" cy="915.91" r="1.75" fill="#ff1f1f"/><circle cx="308.81" cy="915.67" r="1.75" fill="#ff1f1f"/><circle cx="314.38" cy="915.25" r="1.75" fill="#ff1f1f"/><circle cx="319.94" cy="913.31" r="1.75" fill="#ff1f1f"/><circle cx="325.5" cy="914.09" r="1.75" fill="#ff1f1f"/><polyline points="103,914.4 108.56,915.12 114.12,915.12 119.69,914.7 125.25,914.4 130.81,913.19 136.38,912.22 141.94,912.7 147.5,913.67 153.06,913.67 158.62,914.09 164.19,913.67 169.75,912.7 175.31,911 180.88,909.61 186.44,906.46 192,898.58 197.56,883.13 203.12,848.1 208.69,815.07 214.25,800.11 219.81,810.41 225.38,847.62 230.94,879.98 236.5,898.34 242.06,905.07 247.62,908.88 253.19,913 258.75,913.49 264.31,914.4 269.88,914.4 275.44,914.7 281,913.67 286.56,913.49 292.12,913.49 297.69,914.09 303.25,913.06 308.81,913.06 314.38,913.06 319.94,911.49 325.5,910.82" fill="none" stroke="#00b400" stroke-width="1.1"/><path d="M103 914.4V912.64M101.5 912.64H104.5M108.56 915.12V913.42M107.06 913.42H110.06M114.12 915.12V913.42M112.62 913.42H115.62M119.69 914.7V912.96M118.19 912.96H121.19M125.25 914.4V912.64M123.75 912.64H126.75M130.81 913.19V911.34M129.31 911.34H132.31M136.38 912.22V910.31M134.88 910.31H137.88M141.94 912.7V910.83M140.44 910.83H143.44M147.5 913.67V911.86M146 911.86H149M153.06 913.67V911.86M151.56 911.86H154.56M158.62 914.09V912.31M157.12 912.31H160.12M164.19 913.67V911.86M162.69 911.86H165.69M169.75 912.7V910.83M168.25 910.83H171.25M175.31 911V909.02M173.81 909.02H176.81M180.88 909.61V907.55M179.38 907.55H182.38M186.44 906.46V904.22M184.94 904.22H187.94M192 898.58V895.96M190.5 895.96H193.5M197.56 883.13V879.88M196.06 879.88H199.06M203.12 848.1V843.71M201.62 843.71H204.62M208.69 815.07V809.8M207.19 809.8H210.19M214.25 800.11V794.47M212.75 794.47H215.75M219.81 810.41V805.02M218.31 805.02H221.31M225.38 847.62V843.22M223.88 843.22H226.88M230.94 879.98V876.61M229.44 876.61H232.44M236.5 898.34V895.71M235 895.71H238M242.06 905.07V902.76M240.56 902.76H243.56M247.62 908.88V906.78M246.12 906.78H249.12M253.19 913V911.15M251.69 911.15H254.69M258.75 913.49V911.67M257.25 911.67H260.25M264.31 914.4V912.64M262.81 912.64H265.81M269.88 914.4V912.64M268.38 912.64H271.38M275.44 914.7V912.96M273.94 912.96H276.94M281 913.67V911.86M279.5 911.86H282.5M286.56 913.49V911.67M285.06 911.67H288.06M292.12 913.49V911.67M290.62 911.67H293.62M297.69 914.09V912.31M296.19 912.31H299.19M303.25 913.06V911.21M301.75 911.21H304.75M308.81 913.06V911.21M307.31 911.21H310.31M314.38 913.06V911.21M312.88 911.21H315.88M319.94 911.49V909.54M318.44 909.54H321.44M325.5 910.82V908.83M324 908.83H327" stroke="#00b400" stroke-width="0.9" fill="none"/><circle cx="103" cy="914.4" r="1.75" fill="#00b400"/><circle cx="108.56" cy="915.12" r="1.75" fill="#00b400"/><circle cx="114.12" cy="915.12" r="1.75" fill="#00b400"/><circle cx="119.69" cy="914.7" r="1.75" fill="#00b400"/><circle cx="125.25" cy="914.4" r="1.75" fill="#00b400"/><circle cx="130.81" cy="913.19" r="1.75" fill="#00b400"/><circle cx="136.38" cy="912.22" r="1.75" fill="#00b400"/><circle cx="141.94" cy="912.7" r="1.75" fill="#00b400"/><circle cx="147.5" cy="913.67" r="1.75" fill="#00b400"/><circle cx="153.06" cy="913.67" r="1.75" fill="#00b400"/><circle cx="158.62" cy="914.09" r="1.75" fill="#00b400"/><circle cx="164.19" cy="913.67" r="1.75" fill="#00b400"/><circle cx="169.75" cy="912.7" r="1.75" fill="#00b400"/><circle cx="175.31" cy="911" r="1.75" fill="#00b400"/><circle cx="180.88" cy="909.61" r="1.75" fill="#00b400"/><circle cx="186.44" cy="906.46" r="1.75" fill="#00b400"/><circle cx="192" cy="898.58" r="1.75" fill="#00b400"/><circle cx="197.56" cy="883.13" r="1.75" fill="#00b400"/><circle cx="203.12" cy="848.1" r="1.75" fill="#00b400"/><circle cx="208.69" cy="815.07" r="1.75" fill="#00b400"/><circle cx="214.25" cy="800.11" r="1.75" fill="#00b400"/><circle cx="219.81" cy="810.41" r="1.75" fill="#00b400"/><circle cx="225.38" cy="847.62" r="1.75" fill="#00b400"/><circle cx="230.94" cy="879.98" r="1.75" fill="#00b400"/><circle cx="236.5" cy="898.34" r="1.75" fill="#00b400"/><circle cx="242.06" cy="905.07" r="1.75" fill="#00b400"/><circle cx="247.62" cy="908.88" r="1.75" fill="#00b400"/><circle cx="253.19" cy="913" r="1.75" fill="#00b400"/><circle cx="258.75" cy="913.49" r="1.75" fill="#00b400"/><circle cx="264.31" cy="914.4" r="1.75" fill="#00b400"/><circle cx="269.88" cy="914.4" r="1.75" fill="#00b400"/><circle cx="275.44" cy="914.7" r="1.75" fill="#00b400"/><circle cx="281" cy="913.67" r="1.75" fill="#00b400"/><circle cx="286.56" cy="913.49" r="1.75" fill="#00b400"/><circle cx="292.12" cy="913.49" r="1.75" fill="#00b400"/><circle cx="297.69" cy="914.09" r="1.75" fill="#00b400"/><circle cx="303.25" cy="913.06" r="1.75" fill="#00b400"/><circle cx="308.81" cy="913.06" r="1.75" fill="#00b400"/><circle cx="314.38" cy="913.06" r="1.75" fill="#00b400"/><circle cx="319.94" cy="911.49" r="1.75" fill="#00b400"/><circle cx="325.5" cy="910.82" r="1.75" fill="#00b400"/><text x="354.5" y="12.2" style="font-size:16.3px;font-weight:normal;stroke:#000;stroke-width:0.5">b)</text><text x="461.5" y="12.5" text-anchor="middle" style="font-size:13px;font-weight:bold">PG-WT</text><text x="619" y="12.5" text-anchor="middle" style="font-size:13px;font-weight:bold">PG-KO</text><text transform="translate(369,92.5) rotate(-90)" text-anchor="middle" style="font-size:13px;font-weight:bold;white-space:pre">PG</text><rect x="373" y="15" width="155" height="155" fill="#000" filter="url(#n00)"/><g filter="url(#lf)"><svg x="373" y="15" width="155" height="155" viewBox="0 0 685 685" overflow="hidden"><path d="M0 41.98C7.37 41.98 29.46 41.76 44.19 41.98C58.92 42.2 73.66 43.31 88.39 43.31C103.12 43.31 122.27 44.41 132.58 41.98C142.89 39.55 144.37 33.51 150.26 28.73C156.15 23.94 159.83 16.94 167.94 13.26C176.04 9.58 193.72 7.73 198.87 6.63M0 66.29C7.37 66.29 29.46 65.55 44.19 66.29C58.92 67.03 73.66 68.87 88.39 70.71C103.12 72.55 121.53 75.13 132.58 77.34C143.63 79.55 147.31 80.65 154.68 83.97C162.04 87.28 169.41 93.91 176.77 97.23C184.14 100.54 187.82 102.38 198.87 103.85C209.92 105.33 228.33 106.06 243.06 106.06C257.8 106.06 270.32 104.22 287.26 103.85C304.2 103.49 329.98 103.49 344.71 103.85C359.44 104.22 366.07 107.02 375.65 106.06C385.22 105.11 395.46 101.5 402.16 98.11C408.86 94.72 409.38 92 415.86 85.74C422.34 79.47 433.54 63.93 441.05 60.55C448.56 57.16 452.54 65.41 460.94 65.41C469.34 65.41 481.34 63.49 491.43 60.55C501.52 57.6 514.78 47.73 521.48 47.73C528.19 47.73 526.64 56.35 531.65 60.55C536.66 64.74 541.44 70.42 551.54 72.92C561.63 75.42 580.41 76.01 592.19 75.57C603.98 75.13 612.23 74.47 622.25 70.27C632.26 66.07 641.84 54.14 652.3 50.38C662.76 46.62 679.55 48.17 685 47.73M176.77 148.05C184.14 148.42 207.71 148.42 220.97 150.26C234.23 152.1 245.27 156.15 256.32 159.1C267.37 162.04 276.95 164.25 287.26 167.94C297.57 171.62 308.62 176.04 318.19 181.19C327.77 186.35 335.87 192.24 344.71 198.87C353.55 205.5 361.06 213.82 371.23 220.97C381.39 228.11 399.95 238.28 405.7 241.74M243.06 119.32C250.43 120.06 270.32 122.27 287.26 123.74C304.2 125.22 327.47 125.29 344.71 128.16C361.95 131.03 374.61 136.34 390.67 140.98C406.73 145.62 424.26 151.8 441.05 156C457.85 160.2 483.04 164.47 491.43 166.17M344.71 163.52C352.37 163.96 374.61 164.92 390.67 166.17C406.73 167.42 424.26 169.78 441.05 171.03C457.85 172.28 483.04 173.24 491.43 173.68M0 183.4C7.37 183.03 29.46 182.3 44.19 181.19C58.92 180.09 77.34 178.62 88.39 176.77C99.44 174.93 106.8 171.25 110.48 170.15M0 209.92C7.37 209.55 30.94 207.71 44.19 207.71C57.45 207.71 68.5 207.71 79.55 209.92C90.6 212.13 101.65 216.92 110.48 220.97C119.32 225.02 121.53 229.81 132.58 234.23C143.63 238.65 162.04 243.8 176.77 247.48C191.51 251.17 206.24 254.11 220.97 256.32C235.7 258.53 250.43 259.27 265.16 260.74C279.89 262.22 296.1 264.06 309.35 265.16C322.61 266.27 331.16 262.51 344.71 267.37C358.26 272.23 383.01 289.84 390.67 294.33M430.89 246.6C437.59 242.4 456.81 227.3 471.1 221.41C485.39 215.52 501.52 213.75 516.62 211.25C531.72 208.74 547.48 209.7 561.7 206.38C575.92 203.07 588.51 196.37 601.92 191.36C615.32 186.35 628.28 181.41 642.13 176.33C655.98 171.25 677.86 163.44 685 160.86M556.84 206.38C564.35 205.57 587.7 203.22 601.92 201.52C616.13 199.83 628.28 197.91 642.13 196.22C655.98 194.53 677.86 192.17 685 191.36M430.89 236.44C440.98 236.07 472.94 234.23 491.43 234.23C509.92 234.23 526.71 234.37 541.81 236.44C556.91 238.5 568.62 244.91 582.03 246.6C595.43 248.29 605.08 246.6 622.25 246.6C639.41 246.6 674.54 246.6 685 246.6M340.29 291.68C348.69 292.12 373.88 295.14 390.67 294.33C407.46 293.52 428.46 290.57 441.05 286.82C453.65 283.06 457.85 275.1 466.24 271.79C474.64 268.48 480.53 267.37 491.43 266.93C502.33 266.49 524.95 268.77 531.65 269.14M582.03 251.9C587.04 255.22 602.06 266.78 612.08 271.79C622.1 276.8 629.98 280.26 642.13 281.95C654.29 283.65 677.86 281.95 685 281.95M0 331.45C7.37 329.98 29.46 325.56 44.19 322.61C58.92 319.67 77.34 316.72 88.39 313.77C99.44 310.83 103.12 306.78 110.48 304.94C117.85 303.09 121.53 303.09 132.58 302.73C143.63 302.36 162.04 303.83 176.77 302.73C191.51 301.62 206.24 297.94 220.97 296.1C235.7 294.26 250.43 292.78 265.16 291.68C279.89 290.57 296.1 290.2 309.35 289.47C322.61 288.73 338.82 287.63 344.71 287.26M571.86 344.71C578.57 341.76 598.68 331.23 612.08 327.03C625.49 322.83 640.14 321.14 652.3 319.52C664.45 317.9 679.55 317.68 685 317.31M0 390.67C8.4 390.23 33.59 389.71 50.38 388.02C67.17 386.33 83.97 380.87 100.76 380.51C117.55 380.14 137.74 384.56 151.14 385.81C164.55 387.06 168.6 388.02 181.19 388.02C193.79 388.02 210.8 385.37 226.71 385.81C242.62 386.25 256.99 389.42 276.65 390.67C296.32 391.92 329.09 392.88 344.71 393.32C360.32 393.76 360.99 391.26 370.34 393.32C379.7 395.38 389.93 403.19 400.84 405.7C411.74 408.2 427.35 406.21 435.75 408.35C444.15 410.48 441.94 415.57 451.22 418.51C460.5 421.46 476.33 423.15 491.43 426.03C506.53 428.9 525.02 433.24 541.81 435.75C558.61 438.25 575.47 441.05 592.19 441.05C608.91 441.05 626.66 437.44 642.13 435.75C657.6 434.05 677.86 431.7 685 430.89M100.76 345.15C107.46 346.85 129.27 351.12 140.98 355.32C152.69 359.51 163.52 365.26 171.03 370.34C178.54 375.42 183.55 383.23 186.05 385.81M181.19 390.67C182.89 393.18 184.66 401.94 191.36 405.7C198.06 409.45 209.7 410.71 221.41 413.21C233.12 415.71 248.22 417.78 261.63 420.72C275.03 423.67 291.75 427.5 301.84 430.89C311.93 434.28 315.03 440.24 322.17 441.05C329.32 441.86 340.95 436.63 344.71 435.75M266.93 445.91C269.43 450.11 276.95 462.71 281.95 471.1C286.96 479.5 290.28 487.09 296.98 496.29C303.68 505.5 314.22 517.14 322.17 526.35C330.13 535.55 340.95 547.34 344.71 551.54M0 488.78C6.7 488.34 27.62 484.88 40.22 486.13C52.81 487.38 63.79 492.91 75.57 496.29C87.36 499.68 98.33 503.07 110.93 506.46C123.52 509.85 141.93 514.12 151.14 516.62C160.35 519.13 163.66 520.67 166.17 521.48M0 509.11C5.01 511.98 21.65 520.89 30.05 526.35C38.45 531.8 38.6 538.42 50.38 541.81C62.17 545.2 83.97 545.86 100.76 546.67C117.55 547.48 136.04 548.37 151.14 546.67C166.24 544.98 178.76 537.32 191.36 536.51C203.95 535.7 211.61 541.37 226.71 541.81C241.81 542.25 262.29 537.54 281.95 539.16C301.62 540.78 334.25 549.47 344.71 551.54M191.36 541.81C194.67 546.01 202.85 557.8 211.25 567C219.64 576.21 231.65 588.73 241.74 597.05C251.83 605.38 260.08 611.05 271.79 616.94C283.5 622.83 299.85 628.21 312.01 632.41C324.16 636.61 339.26 640.51 344.71 642.13M0 632.41C6.7 634.03 26.81 638.38 40.22 642.13C53.62 645.89 67.03 650.75 80.43 654.95C93.84 659.15 108.86 663.57 120.65 667.32C132.43 671.08 142.75 674.54 151.14 677.49C159.54 680.43 167.71 683.75 171.03 685M340.29 423.37C345.3 422.12 359.44 419.62 370.34 415.86C381.24 412.1 393.91 405.03 405.7 400.84C417.48 396.64 428.46 394.5 441.05 390.67C453.65 386.84 467.86 382.86 481.27 377.85C494.67 372.85 508.08 366.07 521.48 360.62C534.89 355.17 551.61 348.54 561.7 345.15C571.79 341.76 578.64 341.1 582.03 340.29M340.29 546.67C346.99 547.12 368.8 548.52 380.51 549.33C392.22 550.14 400.47 553.67 410.56 551.54C420.65 549.4 430.96 541.52 441.05 536.51C451.14 531.5 460.2 527.38 471.1 521.48C482 515.59 496.37 506.16 506.46 501.15C516.55 496.15 522.44 492.68 531.65 491.43C540.86 490.18 551.61 492.02 561.7 493.64C571.79 495.26 582.1 497.32 592.19 501.15C602.28 504.98 612.23 515.74 622.25 516.62C632.26 517.51 641.84 511.54 652.3 506.46C662.76 501.38 679.55 489.52 685 486.13M405.7 556.84C409.9 559.34 421.68 568.55 430.89 571.86C440.09 575.18 450.85 575.03 460.94 576.73C471.03 578.42 479.65 582.03 491.43 582.03C503.22 582.03 520.75 579.23 531.65 576.73C542.55 574.22 548.44 567 556.84 567C565.24 567 572.82 577.61 582.03 576.73C591.24 575.84 602.06 566.71 612.08 561.7C622.1 556.69 629.98 551.68 642.13 546.67C654.29 541.67 677.86 534.15 685 531.65M340.29 607.22C348.69 606.34 373.88 603.61 390.67 601.92C407.46 600.22 424.26 599.56 441.05 597.05C457.85 594.55 481.42 587.7 491.43 586.89C501.45 586.08 499.53 591.31 501.15 592.19M340.29 622.25C345.3 626.44 359.44 640.73 370.34 647.44C381.24 654.14 393.91 658.26 405.7 662.46C417.48 666.66 428.46 668.87 441.05 672.63C453.65 676.38 474.57 682.94 481.27 685M561.7 576.73C568.4 579.3 588.51 588.81 601.92 592.19C615.32 595.58 628.28 595.43 642.13 597.05C655.98 598.68 677.86 601.11 685 601.92" fill="none" stroke="#ff0000" stroke-linecap="round" stroke-linejoin="round" stroke-width="4.42"/></svg></g><rect x="530" y="15" width="155" height="155" fill="#000" filter="url(#n01)"/><text transform="translate(369,250.1) rotate(-90)" text-anchor="middle" style="font-size:13px;font-weight:bold;white-space:pre">VE-cadherin</text><rect x="373" y="172.6" width="155" height="155" fill="#000" filter="url(#n10)"/><g filter="url(#lf)"><svg x="373" y="172.6" width="155" height="155" viewBox="0 0 685 685" overflow="hidden"><path d="M0 55.24C5.01 56.13 21.65 57.16 30.05 60.55C38.45 63.93 42.79 71.37 50.38 75.57C57.97 79.77 67.17 83.23 75.57 85.74C83.97 88.24 92.36 88.98 100.76 90.6C109.16 92.22 117.55 95.46 125.95 95.46C134.35 95.46 142.75 93.91 151.14 90.6C159.54 87.28 167.94 78.96 176.33 75.57C184.73 72.18 189 71.15 201.52 70.27C214.04 69.38 234.74 69.83 251.46 70.27C268.18 70.71 288.36 69.53 301.84 72.92C315.32 76.31 325.19 86.84 332.34 90.6C339.48 94.35 334.99 94.65 344.71 95.46C354.43 96.27 374.61 94.57 390.67 95.46C406.73 96.34 424.26 98.18 441.05 100.76C457.85 103.34 474.64 108.86 491.43 110.93C508.23 112.99 525.02 112.77 541.81 113.14C558.61 113.5 575.47 111.88 592.19 113.14C608.91 114.39 626.66 118.51 642.13 120.65C657.6 122.78 677.86 125.07 685 125.95M0 75.57C1.69 78.08 10.16 85.59 10.16 90.6C10.16 95.61 1.69 103.12 0 105.62M0 196.22C5.01 192.9 19.96 183.03 30.05 176.33C40.14 169.63 48.76 162.71 60.55 156C72.33 149.3 85.66 142.01 100.76 136.12C115.86 130.22 134.35 124.85 151.14 120.65C167.94 116.45 184.8 114.24 201.52 110.93C218.24 107.61 234.74 102.9 251.46 100.76C268.18 98.63 286.3 99.36 301.84 98.11C317.38 96.86 337.57 94.06 344.71 93.25M0 281.95C8.4 281.07 33.59 277.9 50.38 276.65C67.17 275.4 83.97 275.69 100.76 274.44C117.55 273.19 134.35 270.83 151.14 269.14C167.94 267.44 184.8 266.34 201.52 264.28C218.24 262.22 234.74 261.4 251.46 256.76C268.18 252.12 286.3 242.33 301.84 236.44C317.38 230.54 333.29 226.42 344.71 221.41C356.13 216.4 360.99 211.39 370.34 206.38C379.7 201.38 389.05 196 400.84 191.36C412.62 186.72 425.95 180.68 441.05 178.54C456.15 176.41 474.64 178.54 491.43 178.54C508.23 178.54 526.71 179.35 541.81 178.54C556.91 177.73 568.62 175.3 582.03 173.68C595.43 172.06 605.08 170.51 622.25 168.82C639.41 167.13 674.54 164.4 685 163.52M100.76 344.71C109.16 340.95 134.35 329.32 151.14 322.17C167.94 315.03 186.42 308.54 201.52 301.84C216.62 295.14 228.33 288.66 241.74 281.95C255.14 275.25 268.55 266.71 281.95 261.63C295.36 256.54 311.71 252.27 322.17 251.46C332.63 250.65 333.29 255.88 344.71 256.76C356.13 257.65 374.61 256.76 390.67 256.76C406.73 256.76 424.26 257.65 441.05 256.76C457.85 255.88 476.33 253.16 491.43 251.46C506.53 249.77 519.05 248.66 531.65 246.6C544.24 244.54 552.79 240.78 567 239.09C581.22 237.39 597.28 236.88 616.94 236.44C636.61 235.99 673.66 236.44 685 236.44M115.79 40.22C119.18 36.9 130.22 25.34 136.12 20.33C142.01 15.32 146.13 9.35 151.14 10.16C156.15 10.97 161.97 18.49 166.17 25.19C170.37 31.89 174.64 46.18 176.33 50.38M281.95 10.16C286.96 10.97 301.55 13.33 312.01 15.03C322.47 16.72 339.26 19.45 344.71 20.33M340.29 10.16C343.68 12.67 355.61 18.49 360.62 25.19C365.63 31.89 367.84 41.17 370.34 50.38C372.85 59.59 375.65 72.92 375.65 80.43C375.65 87.95 371.23 92.95 370.34 95.46M380.51 70.27C384.7 68.65 397.3 60.55 405.7 60.55C414.09 60.55 422.49 66.95 430.89 70.27C439.28 73.58 445.99 79.55 456.08 80.43C466.17 81.32 477.14 75.57 491.43 75.57C505.72 75.57 528.41 79.62 541.81 80.43C555.22 81.24 563.47 77.93 571.86 80.43C580.26 82.94 586.3 90.38 592.19 95.46C598.09 100.54 604.72 108.35 607.22 110.93M445.91 0C445.1 5.01 440.17 20.84 441.05 30.05C441.94 39.26 447.02 49.35 451.22 55.24C455.41 61.13 459.54 62.02 466.24 65.41C472.94 68.79 487.23 73.88 491.43 75.57M582.03 70.27C585.34 66.95 591.9 54.51 601.92 50.38C611.93 46.26 632.04 48.91 642.13 45.52C652.22 42.13 655.32 30.94 662.46 30.05C669.61 29.17 681.24 38.52 685 40.22M582.03 10.16C588.73 10.97 610.53 12.52 622.25 15.03C633.96 17.53 641.84 20.99 652.3 25.19C662.76 29.39 679.55 37.71 685 40.22M340.29 296.98C345.3 294.48 357.75 287.85 370.34 281.95C382.94 276.06 399.88 265.82 415.86 261.63C431.84 257.43 449.45 257.57 466.24 256.76C483.04 255.95 499.83 255.95 516.62 256.76C533.42 257.57 550.28 259.12 567 261.63C583.72 264.13 597.28 268.4 616.94 271.79C636.61 275.18 673.66 280.26 685 281.95M340.29 344.71C348.69 342.65 373.88 336.9 390.67 332.34C407.46 327.77 424.26 321.51 441.05 317.31C457.85 313.11 474.64 309.72 491.43 307.15C508.23 304.57 525.02 302.73 541.81 301.84C558.61 300.96 575.47 300.96 592.19 301.84C608.91 302.73 626.66 304.57 642.13 307.15C657.6 309.72 677.86 315.62 685 317.31M0 360.62C8.4 360.62 33.59 362.31 50.38 360.62C67.17 358.93 83.97 352.15 100.76 350.45C117.55 348.76 134.35 350.45 151.14 350.45C167.94 350.45 184.8 350.9 201.52 350.45C218.24 350.01 234.74 348.69 251.46 347.8C268.18 346.92 286.3 345.59 301.84 345.15C317.38 344.71 337.57 345.15 344.71 345.15M0 435.75C8.4 434.94 33.59 432.51 50.38 430.89C67.17 429.27 83.97 426.84 100.76 426.03C117.55 425.22 136.93 426.03 151.14 426.03C165.36 426.03 177.66 424.41 186.05 426.03C194.45 427.65 190.62 433.24 201.52 435.75C212.42 438.25 234.74 440.17 251.46 441.05C268.18 441.94 287.04 441.94 301.84 441.05C316.65 440.17 325.49 438.25 340.29 435.75C355.1 433.24 373.88 429.34 390.67 426.03C407.46 422.71 428.46 420.06 441.05 415.86C453.65 411.66 457.85 405.84 466.24 400.84C474.64 395.83 483.04 390.01 491.43 385.81C499.83 381.61 504.03 379.03 516.62 375.65C529.22 372.26 550.28 368.87 567 365.48C583.72 362.09 604.42 358.7 616.94 355.32C629.46 351.93 630.79 347.66 642.13 345.15C653.48 342.65 677.86 341.1 685 340.29M344.71 435.75C352.37 435.75 374.61 435.75 390.67 435.75C406.73 435.75 424.26 435.31 441.05 435.75C457.85 436.19 474.64 437.52 491.43 438.4C508.23 439.28 525.02 438.11 541.81 441.05C558.61 444 575.47 451.51 592.19 456.08C608.91 460.64 626.66 464.7 642.13 468.45C657.6 472.21 677.86 476.92 685 478.62M15.03 460.94C20.92 464.33 40.29 474.57 50.38 481.27C60.47 487.97 67.17 496.15 75.57 501.15C83.97 506.16 88.17 506.24 100.76 511.32C113.36 516.4 134.35 524.95 151.14 531.65C167.94 538.35 184.8 545.64 201.52 551.54C218.24 557.43 234.74 561.11 251.46 567C268.18 572.9 286.3 581.88 301.84 586.89C317.38 591.9 329.9 594.55 344.71 597.05C359.51 599.56 374.61 599.41 390.67 601.92C406.73 604.42 424.26 610.39 441.05 612.08C457.85 613.77 474.64 611.27 491.43 612.08C508.23 612.89 525.02 614.44 541.81 616.94C558.61 619.45 575.47 622.91 592.19 627.11C608.91 631.3 626.66 637.93 642.13 642.13C657.6 646.33 677.86 650.6 685 652.3M15.03 460.94C20.92 461.82 36.09 464.55 50.38 466.24C64.67 467.94 83.97 468.6 100.76 471.1C117.55 473.61 134.35 478.76 151.14 481.27C167.94 483.77 184.8 484.88 201.52 486.13C218.24 487.38 234.74 487.9 251.46 488.78C268.18 489.66 287.04 491.87 301.84 491.43C316.65 490.99 325.49 487.01 340.29 486.13C355.1 485.25 373.88 485.69 390.67 486.13C407.46 486.57 424.26 487.9 441.05 488.78C457.85 489.66 474.64 489.37 491.43 491.43C508.23 493.49 525.02 498.65 541.81 501.15C558.61 503.66 575.47 506.02 592.19 506.46C608.91 506.9 626.66 504.69 642.13 503.81C657.6 502.92 677.86 501.6 685 501.15M171.03 486.13C176.11 487.82 188.12 492.91 201.52 496.29C214.93 499.68 234.74 503.95 251.46 506.46C268.18 508.96 287.04 510.51 301.84 511.32C316.65 512.13 325.49 513.82 340.29 511.32C355.1 508.82 373.88 499.61 390.67 496.29C407.46 492.98 424.26 492.24 441.05 491.43C457.85 490.62 483.04 491.43 491.43 491.43M0 526.35C5.01 528.04 21.65 532.31 30.05 536.51C38.45 540.71 42.79 544.83 50.38 551.54C57.97 558.24 67.17 570.83 75.57 576.73C83.97 582.62 92.36 587.7 100.76 586.89C109.16 586.08 117.55 575.18 125.95 571.86C134.35 568.55 141.93 566.19 151.14 567C160.35 567.81 172.8 572.53 181.19 576.73C189.59 580.92 193.94 586.3 201.52 592.19C209.11 598.09 218.39 606.26 226.71 612.08C235.04 617.9 238.94 622.91 251.46 627.11C263.98 631.3 287.04 635.58 301.84 637.27C316.65 638.97 329.68 634.77 340.29 637.27C350.9 639.78 357.08 646.4 365.48 652.3C373.88 658.19 383.97 667.18 390.67 672.63C397.37 678.08 403.19 682.94 405.7 685M0 647.44C8.4 648.25 35.28 650.6 50.38 652.3C65.48 653.99 78.89 654.21 90.6 657.6C102.31 660.99 112.25 668.06 120.65 672.63C129.05 677.19 137.59 682.94 140.98 685M226.71 561.7C230.84 563.39 242.25 566.78 251.46 571.86C260.67 576.95 271.86 586.3 281.95 592.19C292.05 598.09 301.55 602.21 312.01 607.22C322.47 612.23 339.26 619.74 344.71 622.25M501.15 491.43C504.54 495.63 514.71 508.23 521.48 516.62C528.26 525.02 535.11 532.61 541.81 541.81C548.52 551.02 556.69 562.66 561.7 571.86C566.71 581.07 565.16 589.54 571.86 597.05C578.57 604.57 590.2 610.24 601.92 616.94C613.63 623.64 630.35 630.49 642.13 637.27C653.92 644.05 665.48 652.59 672.63 657.6C679.77 662.61 682.94 665.7 685 667.32M516.62 496.29C525.02 499.68 554.41 509.92 567 516.62C579.6 523.33 582.99 531.5 592.19 536.51C601.4 541.52 612.23 544.17 622.25 546.67C632.26 549.18 641.84 549.03 652.3 551.54C662.76 554.04 679.55 560.01 685 561.7" fill="none" stroke="#ff0000" stroke-linecap="round" stroke-linejoin="round" stroke-width="6.63"/></svg></g><rect x="530" y="172.6" width="155" height="155" fill="#000" filter="url(#n11)"/><g filter="url(#lf)"><svg x="530" y="172.6" width="155" height="155" viewBox="0 0 685 685" overflow="hidden"><path d="M0 40.22C5.01 38.52 19.96 33.37 30.05 30.05C40.14 26.74 48.76 23.64 60.55 20.33C72.33 17.01 89.05 13.55 100.76 10.16C112.47 6.78 125.8 1.69 130.81 0M0 100.76C3.39 98.26 15.32 92.44 20.33 85.74C25.34 79.03 25.04 68.13 30.05 60.55C35.06 52.96 42.79 46.11 50.38 40.22C57.97 34.32 65.48 30.2 75.57 25.19C85.66 20.18 105.03 12.67 110.93 10.16M0 105.62C8.4 104.81 33.59 104.08 50.38 100.76C67.17 97.45 83.97 90.82 100.76 85.74C117.55 80.65 134.35 75.35 151.14 70.27C167.94 65.19 184.8 60.25 201.52 55.24C218.24 50.23 234.74 45.22 251.46 40.22C268.18 35.21 286.3 30.2 301.84 25.19C317.38 20.18 333.29 14.36 344.71 10.16C356.13 5.97 366.07 1.69 370.34 0M0 151.14C6.7 149.45 27.62 144.37 40.22 140.98C52.81 137.59 63.79 135.01 75.57 130.81C87.36 126.61 98.33 120.8 110.93 115.79C123.52 110.78 136.04 102.46 151.14 100.76C166.24 99.07 184.8 104.37 201.52 105.62C218.24 106.87 234.74 108.72 251.46 108.27C268.18 107.83 286.3 104.22 301.84 102.97C317.38 101.72 329.9 104.52 344.71 100.76C359.51 97 374.61 87.13 390.67 80.43C406.73 73.73 425.95 65.55 441.05 60.55C456.15 55.54 468.67 55.46 481.27 50.38C493.86 45.3 506.53 36.75 516.62 30.05C526.71 23.35 535.99 15.17 541.81 10.16C547.63 5.16 549.92 1.69 551.54 0M0 201.52C5.01 199.83 19.96 195.56 30.05 191.36C40.14 187.16 48.76 181.41 60.55 176.33C72.33 171.25 87.36 165.95 100.76 160.86C114.17 155.78 130.08 152.54 140.98 145.84C151.88 139.14 156.08 129.05 166.17 120.65C176.26 112.25 187.31 102.97 201.52 95.46C215.74 87.95 234.74 81.39 251.46 75.57C268.18 69.75 286.3 65.55 301.84 60.55C317.38 55.54 329.9 51.19 344.71 45.52C359.51 39.85 376.31 32.63 390.67 26.52C405.03 20.4 420.87 13.26 430.89 8.84C440.9 4.42 447.46 1.47 450.77 0M50.38 176.33C58.78 175.45 83.97 173.61 100.76 171.03C117.55 168.45 136.93 162.56 151.14 160.86C165.36 159.17 182.74 158.29 186.05 160.86C189.37 163.44 181.05 172.13 171.03 176.33C161.01 180.53 141.86 184.43 125.95 186.05C110.04 187.68 83.97 186.05 75.57 186.05M0 292.12C8.4 290.43 33.59 284.53 50.38 281.95C67.17 279.38 88.17 278.35 100.76 276.65C113.36 274.96 117.55 274.29 125.95 271.79C134.35 269.29 138.55 266.63 151.14 261.63C163.74 256.62 184.8 248.44 201.52 241.74C218.24 235.04 234.74 227.3 251.46 221.41C268.18 215.52 286.3 212.28 301.84 206.38C317.38 200.49 329.9 195.26 344.71 186.05C359.51 176.85 374.61 160.35 390.67 151.14C406.73 141.93 425.95 137.52 441.05 130.81C456.15 124.11 468.67 117.63 481.27 110.93C493.86 104.22 504.91 96.49 516.62 90.6C528.33 84.7 540.63 79.77 551.54 75.57C562.44 71.37 571.94 70.42 582.03 65.41C592.12 60.4 602.06 51.41 612.08 45.52C622.1 39.63 629.98 35.94 642.13 30.05C654.29 24.16 677.86 13.48 685 10.16M25.19 281.95C27.69 285.27 38.52 291.38 40.22 301.84C41.91 312.3 36.17 337.57 35.35 344.71M176.33 344.71C182.15 340.95 198.72 330.13 211.25 322.17C223.77 314.22 239.68 305.38 251.46 296.98C263.25 288.58 271.86 279.38 281.95 271.79C292.05 264.2 301.55 257.35 312.01 251.46C322.47 245.57 334.99 244.76 344.71 236.44C354.43 228.11 360.99 211.54 370.34 201.52C379.7 191.51 389.05 184.73 400.84 176.33C412.62 167.94 425.95 159.54 441.05 151.14C456.15 142.75 474.64 135.23 491.43 125.95C508.23 116.67 526.71 104.74 541.81 95.46C556.91 86.18 568.62 77.78 582.03 70.27C595.43 62.75 608.84 57.08 622.25 50.38C635.65 43.68 652 35.06 662.46 30.05C672.92 25.04 681.24 21.95 685 20.33M281.95 344.71C286.96 341.76 301.55 333.29 312.01 327.03C322.47 320.77 340 312.96 344.71 307.15C349.42 301.33 332.63 300.52 340.29 292.12C347.95 283.72 373.88 268.55 390.67 256.76C407.46 244.98 424.26 234 441.05 221.41C457.85 208.81 474.64 194.6 491.43 181.19C508.23 167.79 526.71 154.38 541.81 140.98C556.91 127.57 568.62 112.55 582.03 100.76C595.43 88.98 608.84 78.66 622.25 70.27C635.65 61.87 652 55.39 662.46 50.38C672.92 45.37 681.24 41.91 685 40.22M430.89 40.22C435.9 38.52 450.85 35.06 460.94 30.05C471.03 25.04 483.85 15.17 491.43 10.16C499.02 5.16 503.95 1.69 506.46 0M360.62 344.71C367.32 339.26 387.43 322.47 400.84 312.01C414.24 301.55 425.95 293.67 441.05 281.95C456.15 270.24 476.33 255.14 491.43 241.74C506.53 228.33 519.05 211.61 531.65 201.52C544.24 191.43 555.29 189.59 567 181.19C578.71 172.8 589.39 159.54 601.92 151.14C614.44 142.75 628.28 137.52 642.13 130.81C655.98 124.11 677.86 114.24 685 110.93M441.05 344.71C449.45 337.57 474.64 315.69 491.43 301.84C508.23 287.99 526.71 273.34 541.81 261.63C556.91 249.91 568.62 241.59 582.03 231.57C595.43 221.56 608.84 211.61 622.25 201.52C635.65 191.43 652 179.43 662.46 171.03C672.92 162.63 681.24 154.46 685 151.14M582.03 281.95C588.73 276.87 608.84 261.55 622.25 251.46C635.65 241.37 652 228.92 662.46 221.41C672.92 213.9 681.24 208.89 685 206.38M632.41 344.71C637.42 340.14 653.7 324.45 662.46 317.31C671.23 310.17 681.24 304.42 685 301.84M456.08 65.41C461.97 63.71 477.14 57.75 491.43 55.24C505.72 52.74 526.71 50.38 541.81 50.38C556.91 50.38 575.33 54.43 582.03 55.24M0 370.34C4.2 367.03 18.49 355.46 25.19 350.45C31.89 345.45 37.71 341.98 40.22 340.29M0 426.03C5.01 423.52 19.96 416.08 30.05 411C40.14 405.92 48.76 400.61 60.55 395.53C72.33 390.45 85.66 387.21 100.76 380.51C115.86 373.8 139.43 362.02 151.14 355.32C162.85 348.61 167.71 342.79 171.03 340.29M0 445.91C5.01 445.1 21.65 442.75 30.05 441.05C38.45 439.36 42.79 439.95 50.38 435.75C57.97 431.55 67.17 421.68 75.57 415.86C83.97 410.04 88.17 405.84 100.76 400.84C113.36 395.83 134.35 391.7 151.14 385.81C167.94 379.92 184.8 372.26 201.52 365.48C218.24 358.7 240.56 349.35 251.46 345.15C262.36 340.95 264.35 341.1 266.93 340.29M0 491.43C5.01 488.93 19.96 481.49 30.05 476.41C40.14 471.32 53.84 464.33 60.55 460.94C67.25 457.55 68.65 456.89 70.27 456.08M65.41 460.94C62.9 465.14 55.39 477.73 50.38 486.13C45.37 494.53 40.36 502.92 35.35 511.32C30.35 519.72 26.22 528.11 20.33 536.51C14.44 544.91 3.39 557.5 0 561.7M0 576.73C6.7 572.53 26.81 560.74 40.22 551.54C53.62 542.33 67.03 531.5 80.43 521.48C93.84 511.47 107.24 501.52 120.65 491.43C134.05 481.34 147.39 471.03 160.86 460.94C174.34 450.85 188.04 440.9 201.52 430.89C215 420.87 228.33 410.93 241.74 400.84C255.14 390.74 268.55 379.62 281.95 370.34C295.36 361.06 312.45 351.63 322.17 345.15C331.89 338.67 333.88 328.87 340.29 331.45C346.7 334.03 357.23 355.76 360.62 360.62M0 592.19C6.7 589.62 26.81 583.5 40.22 576.73C53.62 569.95 67.03 560.74 80.43 551.54C93.84 542.33 107.24 531.5 120.65 521.48C134.05 511.47 147.39 501.52 160.86 491.43C174.34 481.34 188.04 471.03 201.52 460.94C215 450.85 228.33 440.9 241.74 430.89C255.14 420.87 268.55 410.04 281.95 400.84C295.36 391.63 311.71 382.35 322.17 375.65C332.63 368.94 336.68 358.12 344.71 360.62C352.74 363.12 362.68 389.86 370.34 390.67C378 391.48 382.27 373.88 390.67 365.48C399.07 357.08 415.71 344.49 420.72 340.29M171.03 586.89C174.42 579.38 184.66 553.52 191.36 541.81C198.06 530.1 202.85 525.02 211.25 516.62C219.64 508.23 229.95 500.71 241.74 491.43C253.52 482.15 268.55 470.22 281.95 460.94C295.36 451.66 311.71 443.26 322.17 435.75C332.63 428.24 333.29 415.86 344.71 415.86C356.13 415.86 374.61 436.56 390.67 435.75C406.73 434.94 425.95 418.51 441.05 411C456.15 403.49 467.86 398.26 481.27 390.67C494.67 383.08 511.39 373.88 521.48 365.48C531.57 357.08 538.42 344.49 541.81 340.29M171.03 576.73C176.11 572.53 189.74 560.74 201.52 551.54C213.31 542.33 228.33 531.5 241.74 521.48C255.14 511.47 268.55 500.64 281.95 491.43C295.36 482.23 311.71 472.13 322.17 466.24C332.63 460.35 333.29 456.96 344.71 456.08C356.13 455.19 374.61 463.44 390.67 460.94C406.73 458.43 424.26 447.75 441.05 441.05C457.85 434.35 474.64 428.31 491.43 420.72C508.23 413.14 525.02 403.93 541.81 395.53C558.61 387.14 575.47 377.85 592.19 370.34C608.91 362.83 630.42 355.46 642.13 350.45C653.84 345.45 659.07 341.98 662.46 340.29M75.57 601.92C79.77 603.61 88.17 611.2 100.76 612.08C113.36 612.96 134.35 609.72 151.14 607.22C167.94 604.72 184.8 601.25 201.52 597.05C218.24 592.86 234.74 588.73 251.46 582.03C268.18 575.33 286.3 565.24 301.84 556.84C317.38 548.44 337.57 535.85 344.71 531.65M0 637.27C5.01 638.97 21.65 642.43 30.05 647.44C38.45 652.44 45.3 661.06 50.38 667.32C55.46 673.58 58.85 682.05 60.55 685M430.89 567C435.9 561.11 450.85 542.62 460.94 531.65C471.03 520.67 479.65 511.25 491.43 501.15C503.22 491.06 519.94 481.12 531.65 471.1C543.36 461.09 551.61 451.07 561.7 441.05C571.79 431.03 582.1 421.09 592.19 411C602.28 400.91 610.53 390.6 622.25 380.51C633.96 370.42 654.06 357.16 662.46 350.45C670.86 343.75 670.93 341.98 672.63 340.29M430.89 571.86C437.59 568.48 457.7 558.24 471.1 551.54C484.51 544.83 497.91 540.05 511.32 531.65C524.72 523.25 538.06 512.06 551.54 501.15C565.01 490.25 578.71 476.26 592.19 466.24C605.67 456.22 619 449.45 632.41 441.05C645.82 432.65 663.86 420.87 672.63 415.86C681.39 410.85 682.94 411.81 685 411M430.89 571.86C427.57 576.87 417.7 591.83 411 601.92C404.3 612.01 392.37 623.13 390.67 632.41C388.98 641.69 392.44 650.9 400.84 657.6C409.23 664.3 425.95 670.12 441.05 672.63C456.15 675.13 474.64 674.32 491.43 672.63C508.23 670.93 533.42 664.16 541.81 662.46M541.81 662.46C546.82 655.76 561.85 635.65 571.86 622.25C581.88 608.84 591.83 595.43 601.92 582.03C612.01 568.62 624.01 555.29 632.41 541.81C640.81 528.33 645.59 514.63 652.3 501.15C659 487.68 667.18 470.96 672.63 460.94C678.08 450.92 682.94 444.37 685 441.05M541.81 662.46C550.21 659.07 575.47 650.53 592.19 642.13C608.91 633.74 626.66 621.29 642.13 612.08C657.6 602.87 677.86 591.09 685 586.89M601.92 685C608.62 679.55 628.28 661.95 642.13 652.3C655.98 642.65 677.86 631.3 685 627.11" fill="none" stroke="#ff0000" stroke-linecap="round" stroke-linejoin="round" stroke-width="7.07"/></svg></g><text transform="translate(369,407.7) rotate(-90)" text-anchor="middle" style="font-size:13px;font-weight:bold;white-space:pre">β-catenin</text><rect x="373" y="330.2" width="155" height="155" fill="#000" filter="url(#n20)"/><g filter="url(#lf)"><svg x="373" y="330.2" width="155" height="155" viewBox="0 0 685 685" overflow="hidden"><path d="M0 35.35C5.01 32.85 17.46 24.53 30.05 20.33C42.65 16.13 62.09 12.3 75.57 10.16C89.05 8.03 98.33 6.7 110.93 7.51C123.52 8.32 136.04 11.27 151.14 15.03C166.24 18.78 184.8 26.66 201.52 30.05C218.24 33.44 234.74 34.91 251.46 35.35C268.18 35.8 287.04 33.59 301.84 32.7C316.65 31.82 325.49 30.86 340.29 30.05C355.1 29.24 373.88 28.65 390.67 27.84C407.46 27.03 424.26 26.07 441.05 25.19C457.85 24.31 474.64 23.35 491.43 22.54C508.23 21.73 525.02 21.14 541.81 20.33C558.61 19.52 578.79 16.87 592.19 17.68C605.6 18.49 620.62 22.24 622.25 25.19C623.87 28.14 605.3 33.66 601.92 35.35M10.16 35.35C10.97 39.55 12.52 52.15 15.03 60.55C17.53 68.94 24.31 79.03 25.19 85.74C26.07 92.44 24.53 94.94 20.33 100.76C16.13 106.58 3.39 117.33 0 120.65M0 221.41C5.01 218.91 17.46 212.28 30.05 206.38C42.65 200.49 59.59 194.45 75.57 186.05C91.55 177.66 109.16 162.71 125.95 156C142.75 149.3 162.12 150.85 176.33 145.84C190.55 140.83 200.34 132.65 211.25 125.95C222.15 119.25 230.84 111.96 241.74 105.62C252.64 99.29 264.94 92.14 276.65 87.95C288.36 83.75 301.4 81.68 312.01 80.43C322.61 79.18 327.18 82.94 340.29 80.43C353.4 77.93 373.88 68.35 390.67 65.41C407.46 62.46 425.95 61.06 441.05 62.75C456.15 64.45 469.56 70.12 481.27 75.57C492.98 81.02 504.62 89.57 511.32 95.46C518.02 101.35 521.48 105.03 521.48 110.93C521.48 116.82 510.51 125.8 511.32 130.81C512.13 135.82 514.56 139.73 526.35 140.98C538.13 142.23 562.73 138.33 582.03 138.33C601.33 138.33 624.97 140.54 642.13 140.98C659.29 141.42 677.86 140.98 685 140.98M100.76 166.17C109.16 165.28 134.35 161.75 151.14 160.86C167.94 159.98 184.8 162.12 201.52 160.86C218.24 159.61 234.74 154.97 251.46 153.35C268.18 151.73 287.04 151.51 301.84 151.14C316.65 150.77 325.49 150.33 340.29 151.14C355.1 151.95 373.88 155.19 390.67 156C407.46 156.81 424.26 156.81 441.05 156C457.85 155.19 478.84 153.65 491.43 151.14C504.03 148.64 512.42 142.67 516.62 140.98M441.05 60.55C449.45 59.66 474.64 56.94 491.43 55.24C508.23 53.55 525.02 51.63 541.81 50.38C558.61 49.13 575.47 47.73 592.19 47.73C608.91 47.73 628.73 47.43 642.13 50.38C655.54 53.33 665.48 60.4 672.63 65.41C679.77 70.42 682.94 77.93 685 80.43M0 251.46C8.4 250.65 33.59 249.1 50.38 246.6C67.17 244.1 83.97 238.94 100.76 236.44C117.55 233.93 134.35 232.83 151.14 231.57C167.94 230.32 184.8 229.36 201.52 228.92C218.24 228.48 234.74 229.29 251.46 228.92C268.18 228.55 287.04 227.97 301.84 226.71C316.65 225.46 328.87 222.29 340.29 221.41C351.71 220.53 360.25 219.72 370.34 221.41C380.43 223.1 389.05 229.07 400.84 231.57C412.62 234.08 425.95 236.44 441.05 236.44C456.15 236.44 474.64 234.08 491.43 231.57C508.23 229.07 525.02 224.8 541.81 221.41C558.61 218.02 575.47 212.94 592.19 211.25C608.91 209.55 626.66 211.25 642.13 211.25C657.6 211.25 677.86 211.25 685 211.25M551.54 201.52C558.31 199.83 577.09 194.75 592.19 191.36C607.29 187.97 626.66 183.33 642.13 181.19C657.6 179.06 677.86 178.98 685 178.54M0 312.01C8.4 309.5 33.59 301.99 50.38 296.98C67.17 291.97 83.97 286.96 100.76 281.95C117.55 276.95 134.35 271.13 151.14 266.93C167.94 262.73 184.8 260.15 201.52 256.76C218.24 253.38 234.74 249.99 251.46 246.6C268.18 243.21 286.3 239.75 301.84 236.44C317.38 233.12 337.57 228.33 344.71 226.71M0 322.17C8.4 322.17 33.59 323.87 50.38 322.17C67.17 320.48 87.36 316.2 100.76 312.01C114.17 307.81 122.42 301.99 130.81 296.98C139.21 291.97 139.36 284.46 151.14 281.95C162.93 279.45 184.8 281.14 201.52 281.95C218.24 282.77 234.74 286.82 251.46 286.82C268.18 286.82 287.04 281.07 301.84 281.95C316.65 282.84 325.49 291.31 340.29 292.12C355.1 292.93 373.88 288.51 390.67 286.82C407.46 285.12 424.26 283.21 441.05 281.95C457.85 280.7 474.64 281.81 491.43 279.3C508.23 276.8 525.02 270.69 541.81 266.93C558.61 263.17 575.47 260.15 592.19 256.76C608.91 253.38 626.66 250.8 642.13 246.6C657.6 242.4 677.86 234.08 685 231.57M100.76 344.71C109.16 340.95 134.35 328.43 151.14 322.17C167.94 315.91 184.8 310.53 201.52 307.15C218.24 303.76 234.74 303.54 251.46 301.84C268.18 300.15 287.04 293.59 301.84 296.98C316.65 300.37 325.49 318.78 340.29 322.17C355.1 325.56 373.88 319.81 390.67 317.31C407.46 314.81 424.26 309.72 441.05 307.15C457.85 304.57 474.64 303.54 491.43 301.84C508.23 300.15 525.02 300.3 541.81 296.98C558.61 293.67 575.47 287.85 592.19 281.95C608.91 276.06 626.66 268.33 642.13 261.63C657.6 254.92 677.86 245.05 685 241.74M441.05 344.71C449.45 342.65 474.64 336.09 491.43 332.34C508.23 328.58 525.02 325.56 541.81 322.17C558.61 318.78 575.47 314.51 592.19 312.01C608.91 309.5 626.66 308.84 642.13 307.15C657.6 305.45 677.86 302.73 685 301.84M0 360.62C8.4 359.74 33.59 357.01 50.38 355.32C67.17 353.62 83.97 351.71 100.76 350.45C117.55 349.2 134.35 348.69 151.14 347.8C167.94 346.92 184.8 345.96 201.52 345.15C218.24 344.34 243.14 343.31 251.46 342.94M50.38 365.48C58.78 365.04 83.97 364.52 100.76 362.83C117.55 361.13 134.35 357.01 151.14 355.32C167.94 353.62 184.8 353.47 201.52 352.66C218.24 351.85 234.74 351.27 251.46 350.45C268.18 349.64 286.3 348.69 301.84 347.8C317.38 346.92 337.57 345.59 344.71 345.15M0 435.75C8.4 433.24 33.59 425.73 50.38 420.72C67.17 415.71 83.97 410.71 100.76 405.7C117.55 400.69 134.35 394.87 151.14 390.67C167.94 386.47 184.8 383.89 201.52 380.51C218.24 377.12 234.74 373.66 251.46 370.34C268.18 367.03 287.04 362.24 301.84 360.62C316.65 359 325.49 362.31 340.29 360.62C355.1 358.93 373.88 353.84 390.67 350.45C407.46 347.07 432.65 341.98 441.05 340.29M0 476.41C2.5 473.02 10.02 461.97 15.03 456.08C20.03 450.18 27.55 443.56 30.05 441.05M0 471.1C8.4 469.41 33.59 465.14 50.38 460.94C67.17 456.74 83.97 451.73 100.76 445.91C117.55 440.09 134.35 431.84 151.14 426.03C167.94 420.21 184.8 415.2 201.52 411C218.24 406.8 234.74 404.22 251.46 400.84C268.18 397.45 287.04 392.37 301.84 390.67C316.65 388.98 325.49 392.37 340.29 390.67C355.1 388.98 373.88 384.7 390.67 380.51C407.46 376.31 424.26 370.49 441.05 365.48C457.85 360.47 476.33 354.65 491.43 350.45C506.53 346.26 524.95 341.98 531.65 340.29M0 662.46C3.39 659.07 14.44 650.53 20.33 642.13C26.22 633.74 31.16 621.29 35.35 612.08C39.55 602.87 38.82 595.29 45.52 586.89C52.22 578.49 66.36 569.21 75.57 561.7C84.78 554.19 88.17 549.33 100.76 541.81C113.36 534.3 134.35 527.52 151.14 516.62C167.94 505.72 184.8 489 201.52 476.41C218.24 463.81 236.36 451.95 251.46 441.05C266.56 430.15 277.31 409.31 292.12 411C306.92 412.69 323.87 447.9 340.29 451.22C356.72 454.53 373.88 436.78 390.67 430.89C407.46 424.99 424.26 420.06 441.05 415.86C457.85 411.66 474.64 408.2 491.43 405.7C508.23 403.19 525.02 401.65 541.81 400.84C558.61 400.03 575.47 400.03 592.19 400.84C608.91 401.65 626.66 404 642.13 405.7C657.6 407.39 677.86 410.12 685 411M100.76 571.86C105.77 566.86 118.22 550.21 130.81 541.81C143.41 533.42 160.35 528.26 176.33 521.48C192.32 514.71 209.99 508.67 226.71 501.15C243.43 493.64 260.74 484.73 276.65 476.41C292.56 468.08 310.83 457.11 322.17 451.22C333.51 445.32 340.95 442.75 344.71 441.05M140.98 685C144.29 677.86 154.16 653.48 160.86 642.13C167.57 630.79 172.8 621.95 181.19 616.94C189.59 611.93 202.04 621.29 211.25 612.08C220.45 602.87 228.04 576.8 236.44 561.7C244.83 546.6 252.35 534.89 261.63 521.48C270.91 508.08 282.03 492.98 292.12 481.27C302.21 469.56 317.16 456.22 322.17 451.22M221.41 685C223.91 677.86 231.43 655.98 236.44 642.13C241.44 628.28 245.57 614.44 251.46 601.92C257.35 589.39 264.2 578.71 271.79 567C279.38 555.29 290.28 542.62 296.98 531.65C303.68 520.67 311.2 509.55 312.01 501.15C312.82 492.76 303.54 484.58 301.84 481.27M292.12 491.43C295.43 495.63 306.19 506.61 312.01 516.62C317.83 526.64 321.58 540.63 327.03 551.54C332.48 562.44 335.8 582.03 344.71 582.03C353.62 582.03 368.65 559.93 380.51 551.54C392.37 543.14 404.08 537.47 415.86 531.65C427.65 525.83 438.62 521.7 451.22 516.62C463.81 511.54 479.72 505.35 491.43 501.15C503.14 496.96 513.09 493.94 521.48 491.43C529.88 488.93 538.42 487.01 541.81 486.13M191.36 685C191.36 677.86 189.66 652.59 191.36 642.13C193.05 631.67 199.83 625.56 201.52 622.25M322.17 685C323.87 679.55 328.58 661.06 332.34 652.3C336.09 643.53 342.65 635.72 344.71 632.41M491.43 370.34C499.83 370.34 525.02 371.15 541.81 370.34C558.61 369.53 577.09 367.1 592.19 365.48C607.29 363.86 620.7 364.01 632.41 360.62C644.12 357.23 653.7 348.54 662.46 345.15C671.23 341.76 681.24 341.1 685 340.29M526.35 460.94C528.92 464.33 535.04 476.19 541.81 481.27C548.59 486.35 558.61 490.62 567 491.43C575.4 492.24 579.67 488.63 592.19 486.13C604.72 483.62 626.66 478.91 642.13 476.41C657.6 473.9 677.86 471.99 685 471.1M526.35 460.94C530.54 459.32 542.25 454.53 551.54 451.22C560.82 447.9 570.24 443.63 582.03 441.05C593.81 438.47 610.53 437.44 622.25 435.75C633.96 434.05 641.84 432.51 652.3 430.89C662.76 429.27 679.55 426.84 685 426.03M491.43 506.46C498.13 507.27 519.05 509.63 531.65 511.32C544.24 513.01 552.79 514.93 567 516.62C581.22 518.32 600.22 518.98 616.94 521.48C633.66 523.99 655.98 529.14 667.32 531.65C678.67 534.15 682.05 535.7 685 536.51M390.67 685C394.87 677.86 407.46 655.98 415.86 642.13C424.26 628.28 431.84 614.44 441.05 601.92C450.26 589.39 461.09 577.02 471.1 567C481.12 556.99 491.06 549.4 501.15 541.81C511.25 534.23 526.57 524.87 531.65 521.48M426.03 685C429.34 677.86 439.21 655.98 445.91 642.13C452.62 628.28 458.66 614.44 466.24 601.92C473.83 589.39 482.23 577.02 491.43 567C500.64 556.99 516.48 546.01 521.48 541.81M491.43 642.13C493.94 637.12 499.76 619.59 506.46 612.08C513.16 604.57 523.25 600.37 531.65 597.05C540.05 593.74 552.64 593 556.84 592.19M541.81 601.92C545.13 607 555 622.32 561.7 632.41C568.4 642.5 575.33 653.7 582.03 662.46C588.73 671.23 598.6 681.24 601.92 685M567 592.19C572.82 595.51 589.39 607.07 601.92 612.08C614.44 617.09 628.28 618.86 642.13 622.25C655.98 625.63 677.86 630.72 685 632.41M340.29 642.13C343.68 635.43 353.92 615.32 360.62 601.92C367.32 588.51 373.8 573.41 380.51 561.7C387.21 549.99 397.45 536.66 400.84 531.65M622.25 642.13C627.25 645.52 641.84 657.38 652.3 662.46C662.76 667.54 679.55 670.93 685 672.63" fill="none" stroke="#ff0000" stroke-linecap="round" stroke-linejoin="round" stroke-width="6.63"/></svg></g><rect x="530" y="330.2" width="155" height="155" fill="#000" filter="url(#n21)"/><g filter="url(#lf)"><svg x="530" y="330.2" width="155" height="155" viewBox="0 0 685 685" overflow="hidden"><path d="M0 20.33C8.4 21.14 33.59 23.94 50.38 25.19C67.17 26.44 83.97 26.15 100.76 27.84C117.55 29.54 136.04 32.41 151.14 35.35C166.24 38.3 178.76 41.32 191.36 45.52C203.95 49.72 216.7 57.23 226.71 60.55C236.73 63.86 238.94 62.09 251.46 65.41C263.98 68.72 286.3 75.42 301.84 80.43C317.38 85.44 329.9 89.57 344.71 95.46C359.51 101.35 374.61 109.89 390.67 115.79C406.73 121.68 424.26 125.8 441.05 130.81C457.85 135.82 474.64 139.95 491.43 145.84C508.23 151.73 525.02 158.58 541.81 166.17C558.61 173.75 575.47 182.96 592.19 191.36C608.91 199.75 626.66 209.04 642.13 216.55C657.6 224.06 677.86 233.12 685 236.44M176.33 4.86C184.73 7.44 209.99 16.13 226.71 20.33C243.43 24.53 262.44 26.74 276.65 30.05C290.87 33.37 301.4 37.64 312.01 40.22C322.61 42.79 327.18 43.83 340.29 45.52C353.4 47.21 373.88 47.88 390.67 50.38C407.46 52.88 424.26 57.23 441.05 60.55C457.85 63.86 474.64 66.07 491.43 70.27C508.23 74.47 525.02 80.65 541.81 85.74C558.61 90.82 575.47 96.56 592.19 100.76C608.91 104.96 626.66 107.61 642.13 110.93C657.6 114.24 677.86 119.03 685 120.65M0 80.43C8.4 80.43 33.59 78.74 50.38 80.43C67.17 82.13 83.97 88.09 100.76 90.6C117.55 93.1 134.35 94.65 151.14 95.46C167.94 96.27 184.8 94.57 201.52 95.46C218.24 96.34 234.74 98.18 251.46 100.76C268.18 103.34 287.04 109.23 301.84 110.93C316.65 112.62 325.49 115.12 340.29 110.93C355.1 106.73 373.88 87.43 390.67 85.74C407.46 84.04 424.26 94.94 441.05 100.76C457.85 106.58 474.64 113.95 491.43 120.65C508.23 127.35 525.02 134.27 541.81 140.98C558.61 147.68 575.47 153.35 592.19 160.86C608.91 168.38 626.66 179.28 642.13 186.05C657.6 192.83 677.86 198.94 685 201.52M0 100.76C8.4 101.57 33.59 103.12 50.38 105.62C67.17 108.13 83.97 112.4 100.76 115.79C117.55 119.18 134.35 123.45 151.14 125.95C167.94 128.46 184.8 128.75 201.52 130.81C218.24 132.88 234.74 135.82 251.46 138.33C268.18 140.83 286.3 143.7 301.84 145.84C317.38 147.97 329.9 151.14 344.71 151.14C359.51 151.14 374.61 145.03 390.67 145.84C406.73 146.65 424.26 152.62 441.05 156C457.85 159.39 474.64 161.16 491.43 166.17C508.23 171.18 525.02 178.54 541.81 186.05C558.61 193.57 575.47 201.96 592.19 211.25C608.91 220.53 626.66 234.15 642.13 241.74C657.6 249.33 677.86 254.26 685 256.76M0 133.46C8.4 135.53 33.59 141.27 50.38 145.84C67.17 150.41 83.97 156.67 100.76 160.86C117.55 165.06 134.35 166.83 151.14 171.03C167.94 175.23 184.8 180.97 201.52 186.05C218.24 191.14 234.74 196.44 251.46 201.52C268.18 206.6 286.3 212.35 301.84 216.55C317.38 220.75 329.9 224.65 344.71 226.71C359.51 228.78 374.61 227.3 390.67 228.92C406.73 230.54 424.26 234.3 441.05 236.44C457.85 238.57 474.64 239.23 491.43 241.74C508.23 244.24 525.02 247.26 541.81 251.46C558.61 255.66 577.98 261.04 592.19 266.93C606.41 272.82 618.78 281.81 627.11 286.82C635.43 291.82 639.63 295.29 642.13 296.98M15.03 140.98C20.92 144.29 37.79 153.35 50.38 160.86C62.98 168.38 78 177.66 90.6 186.05C103.19 194.45 114.24 203.66 125.95 211.25C137.66 218.83 148.27 225.68 160.86 231.57C173.46 237.47 186.42 242.4 201.52 246.6C216.62 250.8 234.74 252.57 251.46 256.76C268.18 260.96 286.3 267.59 301.84 271.79C317.38 275.99 337.57 280.26 344.71 281.95M0 236.44C8.4 236.88 33.59 237.83 50.38 239.09C67.17 240.34 83.97 242.7 100.76 243.95C117.55 245.2 134.35 246.16 151.14 246.6C167.94 247.04 184.8 244.1 201.52 246.6C218.24 249.1 234.74 255.73 251.46 261.63C268.18 267.52 286.3 276.06 301.84 281.95C317.38 287.85 337.57 294.48 344.71 296.98M0 281.95C8.4 283.65 33.59 289.62 50.38 292.12C67.17 294.62 83.97 295.36 100.76 296.98C117.55 298.6 134.35 299.34 151.14 301.84C167.94 304.35 184.8 308.62 201.52 312.01C218.24 315.39 234.74 318.78 251.46 322.17C268.18 325.56 286.3 329.02 301.84 332.34C317.38 335.65 337.57 340.44 344.71 342.06M0 322.17C8.4 322.98 33.59 325.34 50.38 327.03C67.17 328.73 83.97 330.64 100.76 332.34C117.55 334.03 142.75 336.39 151.14 337.2M340.29 178.54C348.69 179.79 373.88 181.41 390.67 186.05C407.46 190.7 424.26 200.49 441.05 206.38C457.85 212.28 474.64 216.4 491.43 221.41C508.23 226.42 525.02 230.54 541.81 236.44C558.61 242.33 575.47 249.18 592.19 256.76C608.91 264.35 626.66 275.25 642.13 281.95C657.6 288.66 677.86 294.48 685 296.98M340.29 301.84C348.69 304.42 373.88 313.11 390.67 317.31C407.46 321.51 424.26 324.53 441.05 327.03C457.85 329.54 474.64 330.64 491.43 332.34C508.23 334.03 525.02 338.89 541.81 337.2C558.61 335.5 577.09 328.87 592.19 322.17C607.29 315.47 616.94 303.68 632.41 296.98C647.88 290.28 676.23 284.46 685 281.95M491.43 10.16C498.13 11.86 519.05 17.01 531.65 20.33C544.24 23.64 554.41 25.85 567 30.05C579.6 34.25 594.7 40.44 607.22 45.52C619.74 50.6 632.93 54.73 642.13 60.55C651.34 66.36 655.32 73.73 662.46 80.43C669.61 87.13 681.24 97.37 685 100.76M612.08 0C615.47 4.2 625.71 16.79 632.41 25.19C639.11 33.59 647.29 42.87 652.3 50.38C657.31 57.89 660.77 66.95 662.46 70.27M0 390.67C5.01 388.98 17.46 383.01 30.05 380.51C42.65 378 59.59 376.46 75.57 375.65C91.55 374.83 109.16 374.83 125.95 375.65C142.75 376.46 163.74 375.5 176.33 380.51C188.93 385.52 193.13 400.61 201.52 405.7C209.92 410.78 218.39 412.69 226.71 411C235.04 409.31 243.14 399.73 251.46 395.53C259.78 391.33 261.11 388.31 276.65 385.81C292.19 383.31 325.71 383.08 344.71 380.51C363.71 377.93 374.61 373.66 390.67 370.34C406.73 367.03 424.26 363.12 441.05 360.62C457.85 358.12 474.64 357.01 491.43 355.32C508.23 353.62 528.41 352.96 541.81 350.45C555.22 347.95 566.86 341.98 571.86 340.29M50.38 441.05C53.7 445.25 67.76 457.03 70.27 466.24C72.77 475.45 70.42 487.9 65.41 496.29C60.4 504.69 51.12 511.61 40.22 516.62C29.32 521.63 6.7 524.72 0 526.35M75.57 481.27C83.97 480.46 113.36 479.79 125.95 476.41C138.55 473.02 140.24 466.02 151.14 460.94C162.04 455.86 176.26 449.23 191.36 445.91C206.46 442.6 224.95 442.75 241.74 441.05C258.53 439.36 275.69 436.63 292.12 435.75C308.54 434.86 323.87 438.25 340.29 435.75C356.72 433.24 373.88 426.54 390.67 420.72C407.46 414.9 424.26 406.65 441.05 400.84C457.85 395.02 474.64 390.89 491.43 385.81C508.23 380.73 526.71 376.23 541.81 370.34C556.91 364.45 572.01 355.46 582.03 350.45C592.05 345.45 598.6 341.98 601.92 340.29M0 571.86C8.4 569.36 33.59 562.73 50.38 556.84C67.17 550.95 83.97 543.21 100.76 536.51C117.55 529.81 134.35 523.33 151.14 516.62C167.94 509.92 184.8 501.38 201.52 496.29C218.24 491.21 234.74 489.44 251.46 486.13C268.18 482.81 287.04 481.42 301.84 476.41C316.65 471.4 325.49 461.16 340.29 456.08C355.1 451 373.88 449.3 390.67 445.91C407.46 442.52 424.26 439.06 441.05 435.75C457.85 432.43 474.64 431.03 491.43 426.03C508.23 421.02 525.02 411.59 541.81 405.7C558.61 399.8 575.47 396.56 592.19 390.67C608.91 384.78 626.66 376.23 642.13 370.34C657.6 364.45 677.86 357.82 685 355.32M0 627.11C8.4 624.6 33.59 617.09 50.38 612.08C67.17 607.07 83.97 602.95 100.76 597.05C117.55 591.16 134.35 584.31 151.14 576.73C167.94 569.14 188.12 558.24 201.52 551.54C214.93 544.83 223.25 542.33 231.57 536.51C239.9 530.69 243.06 522.52 251.46 516.62C259.86 510.73 271.86 506.24 281.95 501.15C292.05 496.07 302.28 488.63 312.01 486.13C321.73 483.62 327.18 488.63 340.29 486.13C353.4 483.62 373.88 474.42 390.67 471.1C407.46 467.79 424.26 467.94 441.05 466.24C457.85 464.55 474.64 462.63 491.43 460.94C508.23 459.24 525.02 457.7 541.81 456.08C558.61 454.46 578.79 452.91 592.19 451.22C605.6 449.52 612.23 448.49 622.25 445.91C632.26 443.33 641.84 439.06 652.3 435.75C662.76 432.43 679.55 427.65 685 426.03M0 647.44C8.4 645.74 33.59 641.47 50.38 637.27C67.17 633.07 83.97 627.25 100.76 622.25C117.55 617.24 134.35 613.11 151.14 607.22C167.94 601.33 186.42 593.59 201.52 586.89C216.62 580.19 228.33 572.01 241.74 567C255.14 561.99 268.55 559.42 281.95 556.84C295.36 554.26 312.45 558.24 322.17 551.54C331.89 544.83 328.87 524.14 340.29 516.62C351.71 509.11 373.88 509.85 390.67 506.46C407.46 503.07 424.26 498.8 441.05 496.29C457.85 493.79 474.64 493.94 491.43 491.43C508.23 488.93 525.02 485.47 541.81 481.27C558.61 477.07 575.47 472.13 592.19 466.24C608.91 460.35 626.66 451.81 642.13 445.91C657.6 440.02 677.86 433.39 685 430.89M231.57 541.81C238.28 540.12 260.08 535.04 271.79 531.65C283.5 528.26 290.43 516.48 301.84 521.48C313.26 526.49 325.49 557.5 340.29 561.7C355.1 565.9 373.88 549.99 390.67 546.67C407.46 543.36 424.26 545.2 441.05 541.81C457.85 538.42 474.64 531.43 491.43 526.35C508.23 521.26 525.02 517.14 541.81 511.32C558.61 505.5 575.47 498.13 592.19 491.43C608.91 484.73 626.66 477.81 642.13 471.1C657.6 464.4 677.86 454.53 685 451.22M0 677.49C8.4 675.79 33.59 669.83 50.38 667.32C67.17 664.82 83.97 664.97 100.76 662.46C117.55 659.96 134.35 655.68 151.14 652.3C167.94 648.91 184.8 645.45 201.52 642.13C218.24 638.82 234.74 635.72 251.46 632.41C268.18 629.1 287.04 627.33 301.84 622.25C316.65 617.16 325.49 607.81 340.29 601.92C355.1 596.02 373.88 591.09 390.67 586.89C407.46 582.69 424.26 580.92 441.05 576.73C457.85 572.53 474.64 566.71 491.43 561.7C508.23 556.69 525.02 551.68 541.81 546.67C558.61 541.67 575.47 538.35 592.19 531.65C608.91 524.95 626.66 514.04 642.13 506.46C657.6 498.87 677.86 489.52 685 486.13M0 345.15C8.4 345.59 33.59 346.92 50.38 347.8C67.17 348.69 83.97 350.9 100.76 350.45C117.55 350.01 134.35 345.59 151.14 345.15C167.94 344.71 184.8 346.11 201.52 347.8C218.24 349.5 234.74 353.18 251.46 355.32C268.18 357.45 286.3 358.12 301.84 360.62C317.38 363.12 337.57 368.72 344.71 370.34M281.95 612.08C286.96 611.27 302.28 602.21 312.01 607.22C321.73 612.23 327.18 638.82 340.29 642.13C353.4 645.45 373.88 631.3 390.67 627.11C407.46 622.91 424.26 621.14 441.05 616.94C457.85 612.74 474.64 607.73 491.43 601.92C508.23 596.1 525.02 588.73 541.81 582.03C558.61 575.33 577.09 566.78 592.19 561.7C607.29 556.62 620.7 556.54 632.41 551.54C644.12 546.53 653.7 537.47 662.46 531.65C671.23 525.83 681.24 519.13 685 516.62M491.43 662.46C499.83 657.45 525.02 642.5 541.81 632.41C558.61 622.32 577.09 611.2 592.19 601.92C607.29 592.64 620.7 586.74 632.41 576.73C644.12 566.71 653.7 551.83 662.46 541.81C671.23 531.8 681.24 520.82 685 516.62M561.7 685C566.78 679.55 582.1 662.76 592.19 652.3C602.28 641.84 612.23 633.96 622.25 622.25C632.26 610.53 645.59 592.93 652.3 582.03C659 571.13 660.77 561.04 662.46 556.84M340.29 677.49C348.69 675.79 373.88 669.83 390.67 667.32C407.46 664.82 424.26 664.97 441.05 662.46C457.85 659.96 483.04 653.99 491.43 652.3" fill="none" stroke="#ff0000" stroke-linecap="round" stroke-linejoin="round" stroke-width="7.07"/></svg></g><text transform="translate(369,565.3) rotate(-90)" text-anchor="middle" style="font-size:13px;font-weight:bold;white-space:pre">ZO-1</text><rect x="373" y="487.8" width="155" height="155" fill="#000" filter="url(#n30)"/><g filter="url(#lf)"><svg x="373" y="487.8" width="155" height="155" viewBox="0 0 685 685" overflow="hidden"><path d="M0 25.19C8.4 23.94 33.59 19.81 50.38 17.68C67.17 15.54 83.97 14.07 100.76 12.37C117.55 10.68 134.35 9.13 151.14 7.51C167.94 5.89 193.13 3.46 201.52 2.65M0 60.55C5.01 60.91 19.96 61.13 30.05 62.75C40.14 64.38 48.76 67.69 60.55 70.27C72.33 72.85 85.66 77.34 100.76 78.22C115.86 79.11 134.35 77.71 151.14 75.57C167.94 73.43 184.8 67.91 201.52 65.41C218.24 62.9 234.74 61.8 251.46 60.55C268.18 59.29 286.3 58.78 301.84 57.89C317.38 57.01 329.9 54.8 344.71 55.24C359.51 55.68 378.81 58.41 390.67 60.55C402.53 62.68 415.86 63.86 415.86 68.06C415.86 72.26 403.27 81.17 390.67 85.74C378.08 90.3 348.69 93.84 340.29 95.46M50.38 30.05C58.78 31.75 83.97 37.64 100.76 40.22C117.55 42.79 134.35 43.83 151.14 45.52C167.94 47.21 188.93 50.38 201.52 50.38C214.12 50.38 215.81 48.91 226.71 45.52C237.61 42.13 254.41 35.13 266.93 30.05C279.45 24.97 290.94 19.22 301.84 15.03C312.74 10.83 327.25 6.56 332.34 4.86M0 123.3C8.4 123.74 33.59 125.51 50.38 125.95C67.17 126.39 83.97 126.84 100.76 125.95C117.55 125.07 139.43 123.59 151.14 120.65C162.85 117.7 158.43 110.34 171.03 108.27C183.62 106.21 208.23 108.27 226.71 108.27C245.2 108.27 266.05 109.97 281.95 108.27C297.86 106.58 311.71 100.61 322.17 98.11C332.63 95.61 340.95 94.06 344.71 93.25M0 130.81C16.79 131.7 67.17 135.23 100.76 136.12C134.35 137 176.41 136.56 201.52 136.12C226.64 135.67 234.74 133.91 251.46 133.46C268.18 133.02 287.04 134.72 301.84 133.46C316.65 132.21 327.18 128.09 340.29 125.95C353.4 123.82 367.91 123.15 380.51 120.65C393.1 118.14 405.77 115.93 415.86 110.93C425.95 105.92 430.15 96.49 441.05 90.6C451.95 84.7 466.17 79.77 481.27 75.57C496.37 71.37 522.44 65.41 531.65 65.41C540.86 65.41 539.01 72.18 536.51 75.57C534.01 78.96 527.52 81.54 516.62 85.74C505.72 89.93 485.39 94.94 471.1 100.76C456.81 106.58 442.6 113.14 430.89 120.65C419.18 128.16 410.93 139.14 400.84 145.84C390.74 152.54 380.43 156.67 370.34 160.86C360.25 165.06 345.3 169.33 340.29 171.03M0 173.68C8.4 174.12 33.59 175.52 50.38 176.33C67.17 177.14 83.97 178.17 100.76 178.54C117.55 178.91 138.55 178.91 151.14 178.54C163.74 178.17 167.94 175.45 176.33 176.33C184.73 177.22 189 181.78 201.52 183.85C214.04 185.91 234.74 188.34 251.46 188.71C268.18 189.07 286.3 187.31 301.84 186.05C317.38 184.8 329.9 182 344.71 181.19C359.51 180.38 374.61 182 390.67 181.19C406.73 180.38 424.26 179.72 441.05 176.33C457.85 172.94 474.64 165.06 491.43 160.86C508.23 156.67 525.02 153.2 541.81 151.14C558.61 149.08 575.47 149.37 592.19 148.49C608.91 147.61 626.66 146.65 642.13 145.84C657.6 145.03 677.86 144 685 143.63M0 201.52C5.01 202.33 21.65 204.76 30.05 206.38C38.45 208 38.6 210.43 50.38 211.25C62.17 212.06 83.97 210.36 100.76 211.25C117.55 212.13 134.35 215.66 151.14 216.55C167.94 217.43 184.8 216.18 201.52 216.55C218.24 216.92 234.74 218.39 251.46 218.76C268.18 219.13 286.3 219.13 301.84 218.76C317.38 218.39 329.9 217.36 344.71 216.55C359.51 215.74 374.61 215.59 390.67 213.9C406.73 212.2 424.26 208.45 441.05 206.38C457.85 204.32 474.64 202.77 491.43 201.52C508.23 200.27 525.02 198.87 541.81 198.87C558.61 198.87 575.47 201.08 592.19 201.52C608.91 201.96 626.66 201.96 642.13 201.52C657.6 201.08 677.86 199.31 685 198.87M50.38 221.41C55.39 223.1 68.72 228.19 80.43 231.57C92.14 234.96 108.86 239.23 120.65 241.74C132.43 244.24 137.66 244.98 151.14 246.6C164.62 248.22 184.8 250.65 201.52 251.46C218.24 252.27 234.74 250.58 251.46 251.46C268.18 252.35 286.3 255.07 301.84 256.76C317.38 258.46 329.9 259.93 344.71 261.63C359.51 263.32 374.61 265.23 390.67 266.93C406.73 268.62 424.26 271.79 441.05 271.79C457.85 271.79 474.64 266.12 491.43 266.93C508.23 267.74 525.02 272.45 541.81 276.65C558.61 280.85 575.47 287.92 592.19 292.12C608.91 296.32 626.66 299.34 642.13 301.84C657.6 304.35 677.86 306.26 685 307.15M50.38 231.57C54.58 234.89 67.17 245.57 75.57 251.46C83.97 257.35 91.55 261.85 100.76 266.93C109.97 272.01 122.42 277.76 130.81 281.95C139.21 286.15 143.56 288.8 151.14 292.12C158.73 295.43 167.94 298.53 176.33 301.84C184.73 305.16 189 308.62 201.52 312.01C214.04 315.39 234.74 318.78 251.46 322.17C268.18 325.56 286.3 329.02 301.84 332.34C317.38 335.65 329.9 340.29 344.71 342.06C359.51 343.83 374.61 342.43 390.67 342.94C406.73 343.46 424.26 344.34 441.05 345.15C457.85 345.96 474.64 346.92 491.43 347.8C508.23 348.69 525.02 349.2 541.81 350.45C558.61 351.71 575.47 353.62 592.19 355.32C608.91 357.01 626.66 358.93 642.13 360.62C657.6 362.31 677.86 364.67 685 365.48M0 292.12C8.4 292.49 33.59 293.52 50.38 294.33C67.17 295.14 83.97 295.73 100.76 296.98C117.55 298.23 138.55 300.15 151.14 301.84C163.74 303.54 172.13 306.26 176.33 307.15M75.57 322.17C79.77 323.87 92.36 328.58 100.76 332.34C109.16 336.09 121.75 342.65 125.95 344.71M241.74 140.98 L251.46 160.86M281.95 171.03C286.96 169.33 301.55 164.18 312.01 160.86C322.47 157.55 339.26 152.76 344.71 151.14M340.29 10.16C348.69 11.86 373.88 19.52 390.67 20.33C407.46 21.14 424.26 15.47 441.05 15.03C457.85 14.58 474.64 17.24 491.43 17.68C508.23 18.12 525.02 18.93 541.81 17.68C558.61 16.43 575.47 11.86 592.19 10.16C608.91 8.47 626.66 8.4 642.13 7.51C657.6 6.63 677.86 5.3 685 4.86M541.81 60.55C550.21 58.85 578.79 55.46 592.19 50.38C605.6 45.3 612.23 35.06 622.25 30.05C632.26 25.04 641.84 22.83 652.3 20.33C662.76 17.82 679.55 15.91 685 15.03M556.84 125.95C562.73 123.45 582.18 118.51 592.19 110.93C602.21 103.34 606.92 88.83 616.94 80.43C626.96 72.04 640.95 66.36 652.3 60.55C663.64 54.73 679.55 48.02 685 45.52M340.29 251.46C348.69 252.35 373.88 255.88 390.67 256.76C407.46 257.65 424.26 257.65 441.05 256.76C457.85 255.88 474.64 253.16 491.43 251.46C508.23 249.77 525.02 248.22 541.81 246.6C558.61 244.98 575.47 244.24 592.19 241.74C608.91 239.23 626.66 234.08 642.13 231.57C657.6 229.07 677.86 227.52 685 226.71M340.29 286.82C348.69 286.82 373.88 286.37 390.67 286.82C407.46 287.26 424.26 287.77 441.05 289.47C457.85 291.16 474.64 294.03 491.43 296.98C508.23 299.93 525.02 302.95 541.81 307.15C558.61 311.34 575.47 317.97 592.19 322.17C608.91 326.37 626.66 329.83 642.13 332.34C657.6 334.84 677.86 336.39 685 337.2M340.29 322.17C348.69 322.98 373.88 325.34 390.67 327.03C407.46 328.73 424.26 330.64 441.05 332.34C457.85 334.03 483.04 336.39 491.43 337.2M0 370.34C5.01 368.72 19.96 362.68 30.05 360.62C40.14 358.56 51.26 360.1 60.55 357.97C69.83 355.83 80.73 350.75 85.74 347.8C90.74 344.86 89.79 341.54 90.6 340.29M0 390.67C6.7 391.48 27.62 392.14 40.22 395.53C52.81 398.92 63.79 405.11 75.57 411C87.36 416.89 98.33 425.88 110.93 430.89C123.52 435.9 139.43 438.55 151.14 441.05C162.85 443.56 169.48 445.1 181.19 445.91C192.9 446.72 208 443.41 221.41 445.91C234.82 448.42 248.22 455.05 261.63 460.94C275.03 466.83 287.99 474.57 301.84 481.27C315.69 487.97 329.9 497.84 344.71 501.15C359.51 504.47 374.61 496.96 390.67 501.15C406.73 505.35 424.26 521.26 441.05 526.35C457.85 531.43 474.64 529.95 491.43 531.65C508.23 533.34 525.02 533.2 541.81 536.51C558.61 539.82 575.47 545.64 592.19 551.54C608.91 557.43 626.66 565.97 642.13 571.86C657.6 577.76 677.86 584.39 685 586.89M0 405.7C6.7 408.2 26.81 414.83 40.22 420.72C53.62 426.62 67.03 434.35 80.43 441.05C93.84 447.75 108.86 455.05 120.65 460.94C132.43 466.83 141.05 471.32 151.14 476.41C161.23 481.49 172.8 485.61 181.19 491.43C189.59 497.25 195.63 502.92 201.52 511.32C207.42 519.72 211.54 531.72 216.55 541.81C221.56 551.9 227.38 563.47 231.57 571.86C235.77 580.26 238.42 584.68 241.74 592.19C245.05 599.71 246.45 608.62 251.46 616.94C256.47 625.27 265.01 633.74 271.79 642.13C278.57 650.53 287.11 660.18 292.12 667.32C297.13 674.47 300.22 682.05 301.84 685M241.74 451.22C245.05 456.22 255.81 471.25 261.63 481.27C267.44 491.28 273.26 501.23 276.65 511.32C280.04 521.41 279.38 531.72 281.95 541.81C284.53 551.9 287.92 561.85 292.12 571.86C296.32 581.88 301.33 591.83 307.15 601.92C312.96 612.01 320.77 624.01 327.03 632.41C333.29 640.81 341.76 648.98 344.71 652.3M281.95 491.43C286.96 494.75 301.55 504.62 312.01 511.32C322.47 518.02 334.99 523.25 344.71 531.65C354.43 540.05 360.99 552.49 370.34 561.7C379.7 570.91 390.74 579.3 400.84 586.89C410.93 594.48 420.87 599.63 430.89 607.22C440.9 614.81 451.73 624.01 460.94 632.41C470.15 640.81 478.54 648.83 486.13 657.6C493.72 666.37 503.07 680.43 506.46 685M0 481.27C3.39 484.58 13.63 494.45 20.33 501.15C27.03 507.86 33.51 514.71 40.22 521.48C46.92 528.26 53.84 535.11 60.55 541.81C67.25 548.52 73.73 555 80.43 561.7C87.13 568.4 94.06 575.33 100.76 582.03C107.46 588.73 113.95 595.21 120.65 601.92C127.35 608.62 134.27 615.54 140.98 622.25C147.68 628.95 154.97 635.43 160.86 642.13C166.76 648.83 172.13 655.32 176.33 662.46C180.53 669.61 184.43 681.24 186.05 685M90.6 556.84C93.98 559.34 104.22 567.67 110.93 571.86C117.63 576.06 124.11 577.02 130.81 582.03C137.52 587.04 145.25 594.4 151.14 601.92C157.03 609.43 161.97 618.71 166.17 627.11C170.37 635.5 173.02 642.65 176.33 652.3C179.65 661.95 184.43 679.55 186.05 685M0 561.7C3.39 566.78 13.63 582.1 20.33 592.19C27.03 602.28 33.51 613.04 40.22 622.25C46.92 631.45 53.84 640.73 60.55 647.44C67.25 654.14 72.04 658.26 80.43 662.46C88.83 666.66 99.14 671.82 110.93 672.63C122.71 673.44 144.44 668.21 151.14 667.32M0 612.08C2.5 616.28 10.02 628.87 15.03 637.27C20.03 645.67 25.85 654.51 30.05 662.46C34.25 670.42 38.52 681.24 40.22 685M100.76 365.48C109.16 366.29 134.35 368.65 151.14 370.34C167.94 372.04 184.8 375.65 201.52 375.65C218.24 375.65 234.74 372.04 251.46 370.34C268.18 368.65 286.3 366.73 301.84 365.48C317.38 364.23 329.9 362.02 344.71 362.83C359.51 363.64 374.61 368.65 390.67 370.34C406.73 372.04 424.26 371.3 441.05 372.99C457.85 374.69 474.64 376.75 491.43 380.51C508.23 384.26 525.02 390.45 541.81 395.53C558.61 400.61 575.47 407.61 592.19 411C608.91 414.39 626.66 414.61 642.13 415.86C657.6 417.11 677.86 418.07 685 418.51M221.41 380.51C226.42 382.2 238.06 386.47 251.46 390.67C264.87 394.87 286.3 401.5 301.84 405.7C317.38 409.9 329.9 410.85 344.71 415.86C359.51 420.87 374.61 429.86 390.67 435.75C406.73 441.64 425.95 447.02 441.05 451.22C456.15 455.41 464.47 459.69 481.27 460.94C498.06 462.19 523.33 459.54 541.81 458.73C560.3 457.92 575.47 457.33 592.19 456.08C608.91 454.83 626.66 452.47 642.13 451.22C657.6 449.96 677.86 449.01 685 448.56M481.27 460.94C485.47 465.14 496.37 479.43 506.46 486.13C516.55 492.83 527.52 497.77 541.81 501.15C556.1 504.54 575.47 506.46 592.19 506.46C608.91 506.46 626.66 503.66 642.13 501.15C657.6 498.65 677.86 493.05 685 491.43M340.29 513.97C348.69 517.73 373.88 529.37 390.67 536.51C407.46 543.65 424.26 550.95 441.05 556.84C457.85 562.73 474.64 566.86 491.43 571.86C508.23 576.87 525.02 581 541.81 586.89C558.61 592.78 575.47 599.63 592.19 607.22C608.91 614.81 626.66 624.9 642.13 632.41C657.6 639.92 677.86 648.98 685 652.3M360.62 556.84C363.93 560.15 373.8 569.21 380.51 576.73C387.21 584.24 394.13 593.52 400.84 601.92C407.54 610.31 414.02 618.71 420.72 627.11C427.43 635.5 434.35 642.65 441.05 652.3C447.75 661.95 457.62 679.55 460.94 685M491.43 571.86C496.44 576.06 511.47 588.66 521.48 597.05C531.5 605.45 541.44 614.73 551.54 622.25C561.63 629.76 571.94 635.43 582.03 642.13C592.12 648.83 602.06 655.32 612.08 662.46C622.1 669.61 637.12 681.24 642.13 685M340.29 622.25C342.79 625.56 350.31 635.43 355.32 642.13C360.32 648.83 364.45 655.32 370.34 662.46C376.23 669.61 387.28 681.24 390.67 685M592.19 531.65C600.52 533.34 626.66 538.5 642.13 541.81C657.6 545.13 677.86 549.92 685 551.54M601.92 622.25C608.62 625.56 628.28 635.43 642.13 642.13C655.98 648.83 677.86 659.07 685 662.46" fill="none" stroke="#ff0000" stroke-linecap="round" stroke-linejoin="round" stroke-width="7.51"/></svg></g><rect x="530" y="487.8" width="155" height="155" fill="#000" filter="url(#n31)"/><g filter="url(#lf)"><svg x="530" y="487.8" width="155" height="155" viewBox="0 0 685 685" overflow="hidden"><path d="M0 15.03C5.01 18.41 19.96 28.65 30.05 35.35C40.14 42.06 48.76 50.23 60.55 55.24C72.33 60.25 85.66 61.21 100.76 65.41C115.86 69.6 134.35 76.23 151.14 80.43C167.94 84.63 184.8 88.09 201.52 90.6C218.24 93.1 234.74 95.9 251.46 95.46C268.18 95.02 286.3 90.45 301.84 87.95C317.38 85.44 330.72 82.49 344.71 80.43C358.7 78.37 371.45 73.88 385.81 75.57C400.17 77.27 417.48 86.4 430.89 90.6C444.29 94.8 460.35 99.07 466.24 100.76M55.24 0C58.63 3.39 67.98 13.63 75.57 20.33C83.16 27.03 89.86 34.4 100.76 40.22C111.66 46.03 127.57 50.23 140.98 55.24C154.38 60.25 169.48 65.19 181.19 70.27C192.9 75.35 206.24 83.16 211.25 85.74M100.76 10.16C109.16 12.67 134.35 20.18 151.14 25.19C167.94 30.2 184.8 35.21 201.52 40.22C218.24 45.22 236.36 49.35 251.46 55.24C266.56 61.13 276.58 70.49 292.12 75.57C307.66 80.65 335.94 84.04 344.71 85.74M0 120.65C8.4 120.65 33.59 121.46 50.38 120.65C67.17 119.84 83.97 117.04 100.76 115.79C117.55 114.53 134.35 114.39 151.14 113.14C167.94 111.88 184.8 109.97 201.52 108.27C218.24 106.58 234.74 104.22 251.46 102.97C268.18 101.72 286.3 101.57 301.84 100.76C317.38 99.95 329.9 99.36 344.71 98.11C359.51 96.86 374.61 92.81 390.67 93.25C406.73 93.69 427.65 99.51 441.05 100.76C454.46 102.01 458.51 102.01 471.1 100.76C483.7 99.51 500.64 95.38 516.62 93.25C532.61 91.11 550.28 89.2 567 87.95C583.72 86.69 597.28 87.8 616.94 85.74C636.61 83.67 673.66 77.27 685 75.57M0 120.65C5.01 124.04 19.96 134.27 30.05 140.98C40.14 147.68 50.45 154.97 60.55 160.86C70.64 166.76 82.2 170.44 90.6 176.33C98.99 182.22 102.53 191.21 110.93 196.22C119.32 201.23 131.77 202.19 140.98 206.38C150.18 210.58 157.77 215.52 166.17 221.41C174.56 227.3 183.85 236.73 191.36 241.74C198.87 246.75 201.23 248.15 211.25 251.46C221.26 254.78 236.36 258.24 251.46 261.63C266.56 265.01 286.3 269.29 301.84 271.79C317.38 274.29 337.57 275.84 344.71 276.65M166.17 216.55C172.06 216.55 187.31 217.43 201.52 216.55C215.74 215.66 234.74 213.75 251.46 211.25C268.18 208.74 286.3 204.47 301.84 201.52C317.38 198.58 329.9 194.01 344.71 193.57C359.51 193.13 374.61 198.43 390.67 198.87C406.73 199.31 424.26 197.1 441.05 196.22C457.85 195.34 474.64 196.07 491.43 193.57C508.23 191.06 525.02 184.95 541.81 181.19C558.61 177.44 581.29 174.42 592.19 171.03C603.09 167.64 598.9 158.36 607.22 160.86C615.54 163.37 629.17 180.16 642.13 186.05C655.1 191.95 677.86 194.53 685 196.22M0 236.44C8.4 238.13 33.59 243.21 50.38 246.6C67.17 249.99 83.97 254.26 100.76 256.76C117.55 259.27 134.35 261.18 151.14 261.63C167.94 262.07 184.8 260.23 201.52 259.42C218.24 258.61 234.74 258.09 251.46 256.76C268.18 255.44 286.3 253.16 301.84 251.46C317.38 249.77 329.9 248.22 344.71 246.6C359.51 244.98 374.61 242.55 390.67 241.74C406.73 240.93 424.26 242.18 441.05 241.74C457.85 241.3 474.64 239.97 491.43 239.09C508.23 238.2 525.02 237.69 541.81 236.44C558.61 235.18 575.47 233.19 592.19 231.57C608.91 229.95 626.66 227.97 642.13 226.71C657.6 225.46 677.86 224.5 685 224.06M0 266.93C8.4 270.24 33.59 280.11 50.38 286.82C67.17 293.52 83.97 301.25 100.76 307.15C117.55 313.04 134.35 317.97 151.14 322.17C167.94 326.37 184.8 329.83 201.52 332.34C218.24 334.84 234.74 335.58 251.46 337.2C268.18 338.82 293.45 341.25 301.84 342.06M100.76 301.84C109.16 303.54 134.35 310.31 151.14 312.01C167.94 313.7 184.8 311.56 201.52 312.01C218.24 312.45 234.74 312.96 251.46 314.66C268.18 316.35 286.3 319.22 301.84 322.17C317.38 325.12 329.9 331.08 344.71 332.34C359.51 333.59 374.61 329.68 390.67 329.68C406.73 329.68 424.26 331.53 441.05 332.34C457.85 333.15 474.64 334.18 491.43 334.55C508.23 334.91 525.02 334.91 541.81 334.55C558.61 334.18 575.47 332.7 592.19 332.34C608.91 331.97 626.66 332.78 642.13 332.34C657.6 331.89 677.86 330.13 685 329.68M266.93 0C271.13 2.5 283.72 10.02 292.12 15.03C300.52 20.03 308.54 25.85 317.31 30.05C326.07 34.25 335.87 37.64 344.71 40.22C353.55 42.79 358.48 43.83 370.34 45.52C382.2 47.21 399.88 50.01 415.86 50.38C431.84 50.75 449.45 50.23 466.24 47.73C483.04 45.22 499.83 39.11 516.62 35.35C533.42 31.6 552.79 29.39 567 25.19C581.22 20.99 591.02 13.92 601.92 10.16C612.82 6.41 627.33 3.9 632.41 2.65M350.45 40.22C351.27 43.6 350.31 55.54 355.32 60.55C360.32 65.55 373.8 71.15 380.51 70.27C387.21 69.38 393.03 57.75 395.53 55.24M415.86 110.93C424.26 114.24 449.45 124.99 466.24 130.81C483.04 136.63 499.83 142.08 516.62 145.84C533.42 149.6 551.9 150.85 567 153.35C582.1 155.86 594.7 158.73 607.22 160.86C619.74 163 629.17 165.28 642.13 166.17C655.1 167.05 677.86 166.17 685 166.17M340.29 271.79C348.69 272.6 373.88 273.71 390.67 276.65C407.46 279.6 425.95 286.08 441.05 289.47C456.15 292.86 464.47 296.54 481.27 296.98C498.06 297.42 523.33 292.12 541.81 292.12C560.3 292.12 575.47 295.36 592.19 296.98C608.91 298.6 626.66 300.15 642.13 301.84C657.6 303.54 677.86 306.26 685 307.15M0 345.15C8.4 345.59 33.59 346.11 50.38 347.8C67.17 349.5 83.97 352.37 100.76 355.32C117.55 358.26 134.35 362.09 151.14 365.48C167.94 368.87 184.8 374.39 201.52 375.65C218.24 376.9 234.74 372.99 251.46 372.99C268.18 372.99 286.3 374.39 301.84 375.65C317.38 376.9 334.91 378.44 344.71 380.51C354.51 382.57 357.16 384.63 360.62 388.02C364.08 391.41 365.48 397.01 365.48 400.84C365.48 404.67 361.43 409.31 360.62 411M176.33 340.29C180.53 341.98 193.13 346.26 201.52 350.45C209.92 354.65 218.39 362.17 226.71 365.48C235.04 368.8 247.34 369.53 251.46 370.34M0 433.54C8.4 434.79 33.59 438.11 50.38 441.05C67.17 444 83.97 449.52 100.76 451.22C117.55 452.91 134.35 452.1 151.14 451.22C167.94 450.33 184.8 448.05 201.52 445.91C218.24 443.78 234.74 441.35 251.46 438.4C268.18 435.45 287.04 431.18 301.84 428.24C316.65 425.29 325.49 421.53 340.29 420.72C355.1 419.91 373.88 421.24 390.67 423.37C407.46 425.51 427.65 430.59 441.05 433.54C454.46 436.48 458.51 440.68 471.1 441.05C483.7 441.42 500.64 439.14 516.62 435.75C532.61 432.36 550.28 425.73 567 420.72C583.72 415.71 597.28 409.01 616.94 405.7C636.61 402.38 673.66 401.65 685 400.84M0 481.27C8.4 479.57 33.59 475.3 50.38 471.1C67.17 466.9 87.36 459.39 100.76 456.08C114.17 452.76 125.8 452.03 130.81 451.22M0 493.64C8.4 493.64 33.59 494.01 50.38 493.64C67.17 493.27 83.97 491.8 100.76 491.43C117.55 491.06 134.35 491.87 151.14 491.43C167.94 490.99 184.8 489.66 201.52 488.78C218.24 487.9 234.74 486.13 251.46 486.13C268.18 486.13 287.04 487.9 301.84 488.78C316.65 489.66 325.49 492.24 340.29 491.43C355.1 490.62 373.88 486.42 390.67 483.92C407.46 481.42 424.26 478.98 441.05 476.41C457.85 473.83 474.64 470.15 491.43 468.45C508.23 466.76 525.02 467.05 541.81 466.24C558.61 465.43 575.47 465.28 592.19 463.59C608.91 461.9 626.66 459.02 642.13 456.08C657.6 453.13 677.86 447.61 685 445.91M0 531.65C4.2 533.34 17.6 536.8 25.19 541.81C32.78 546.82 41.32 555 45.52 561.7C49.72 568.4 51.26 576.95 50.38 582.03C49.5 587.11 48.61 589.69 40.22 592.19C31.82 594.7 6.7 596.24 0 597.05M50.38 586.89C58.78 586.89 83.97 588.58 100.76 586.89C117.55 585.2 134.35 580.48 151.14 576.73C167.94 572.97 184.8 568.11 201.52 564.35C218.24 560.6 234.74 557.94 251.46 554.19C268.18 550.43 287.04 546.45 301.84 541.81C316.65 537.17 325.49 531.43 340.29 526.35C355.1 521.26 373.88 516.33 390.67 511.32C407.46 506.31 424.26 500.86 441.05 496.29C457.85 491.73 474.64 487.68 491.43 483.92C508.23 480.16 533.42 475.45 541.81 473.75M0 607.22C8.4 608.03 33.59 609.58 50.38 612.08C67.17 614.58 83.97 618.86 100.76 622.25C117.55 625.63 134.35 629.91 151.14 632.41C167.94 634.91 184.8 638.15 201.52 637.27C218.24 636.39 234.74 629.61 251.46 627.11C268.18 624.6 287.04 623.94 301.84 622.25C316.65 620.55 325.49 620.33 340.29 616.94C355.1 613.55 373.88 606.48 390.67 601.92C407.46 597.35 424.26 593.74 441.05 589.54C457.85 585.34 474.64 584.68 491.43 576.73C508.23 568.77 525.02 551.83 541.81 541.81C558.61 531.8 575.47 525.9 592.19 516.62C608.91 507.34 626.66 493.72 642.13 486.13C657.6 478.54 677.86 473.61 685 471.1M151.14 632.41C154.46 635.72 162.63 647.29 171.03 652.3C179.43 657.31 188.12 659.07 201.52 662.46C214.93 665.85 234.74 670.12 251.46 672.63C268.18 675.13 286.3 675.87 301.84 677.49C317.38 679.11 337.57 681.54 344.71 682.35M0 662.46C8.4 663.27 33.59 665.63 50.38 667.32C67.17 669.02 83.97 670.93 100.76 672.63C117.55 674.32 142.75 676.68 151.14 677.49M340.29 632.41C348.69 634.03 373.88 642.13 390.67 642.13C407.46 642.13 424.26 637.42 441.05 632.41C457.85 627.4 474.64 619.67 491.43 612.08C508.23 604.49 525.02 595.29 541.81 586.89C558.61 578.49 575.47 569.21 592.19 561.7C608.91 554.19 626.66 547.71 642.13 541.81C657.6 535.92 677.86 528.92 685 526.35M441.05 672.63C449.45 670.93 474.64 665.85 491.43 662.46C508.23 659.07 525.02 655.68 541.81 652.3C558.61 648.91 575.47 647.14 592.19 642.13C608.91 637.12 626.66 628.95 642.13 622.25C657.6 615.54 677.86 605.3 685 601.92M632.41 582.03C634.03 588.73 638.82 610.53 642.13 622.25C645.45 633.96 648.91 641.84 652.3 652.3C655.68 662.76 660.77 679.55 662.46 685M541.81 340.29C550.21 340.73 578.79 342.94 592.19 342.94C605.6 342.94 617.24 340.73 622.25 340.29" fill="none" stroke="#ff0000" stroke-linecap="round" stroke-linejoin="round" stroke-width="7.51"/></svg></g><text transform="translate(369,722.9) rotate(-90)" text-anchor="middle" style="font-size:13px;font-weight:bold;white-space:pre">Cortactin</text><rect x="373" y="645.4" width="155" height="155" fill="#000" filter="url(#n40)"/><g filter="url(#lf)"><svg x="373" y="645.4" width="155" height="155" viewBox="0 0 685 685" overflow="hidden"><path d="M90 0C93.33 8.33 101.67 35 110 50C118.33 65 130 81.67 140 90C150 98.33 160 95 170 100C180 105 195 116.67 200 120M200 120C208.33 121.67 236.67 123.33 250 130C263.33 136.67 271.67 148.33 280 160C288.33 171.67 296.67 193.33 300 200M200 170C205 176.67 220 196.67 230 210C240 223.33 248.33 235 260 250C271.67 265 293.33 291.67 300 300M130 170C133.33 181.67 145 218.33 150 240C155 261.67 156.67 281.67 160 300C163.33 318.33 168.33 341.67 170 350M0 220C5 233.33 23.33 276.67 30 300C36.67 323.33 35 340 40 360C45 380 53.33 401.67 60 420C66.67 438.33 71.67 453.33 80 470C88.33 486.67 100 505 110 520C120 535 128.33 546.67 140 560C151.67 573.33 166.67 586.67 180 600C193.33 613.33 206.67 625.83 220 640C233.33 654.17 253.33 677.5 260 685M130 360C136.67 366.67 158.33 385 170 400C181.67 415 193.33 433.33 200 450C206.67 466.67 208.33 491.67 210 500M300 330C305 338.33 318.33 363.33 330 380C341.67 396.67 358.33 413.33 370 430C381.67 446.67 390 465 400 480C410 495 426.67 506.67 430 520C433.33 533.33 426.67 550 420 560C413.33 570 405 576.67 390 580C375 583.33 348.33 583.33 330 580C311.67 576.67 295 570 280 560C265 550 250 533.33 240 520C230 506.67 223.33 486.67 220 480M360 0C363.33 8.33 375 30 380 50C385 70 390 98.33 390 120C390 141.67 380 160 380 180C380 200 390 220 390 240C390 260 381.67 290 380 300M420 100C428.33 108.33 455 133.33 470 150C485 166.67 498.33 181.67 510 200C521.67 218.33 531.67 243.33 540 260C548.33 276.67 556.67 293.33 560 300M640 0C640 10 641.67 43.33 640 60C638.33 76.67 630 83.33 630 100C630 116.67 640 140 640 160C640 180 635 203.33 630 220C625 236.67 613.33 253.33 610 260M460 330C466.67 338.33 486.67 365 500 380C513.33 395 530 403.33 540 420C550 436.67 555 463.33 560 480C565 496.67 563.33 506.67 570 520C576.67 533.33 588.33 546.67 600 560C611.67 573.33 625.83 590 640 600C654.17 610 677.5 616.67 685 620M0 60C6.67 63.33 26.67 75 40 80C53.33 85 73.33 88.33 80 90M230 600C241.67 603.33 280 613.33 300 620C320 626.67 336.67 629.17 350 640C363.33 650.83 375 677.5 380 685M500 520C503.33 530 510 560 520 580C530 600 546.67 622.5 560 640C573.33 657.5 593.33 677.5 600 685M250 80C258.33 78.33 281.67 68.33 300 70C318.33 71.67 350 86.67 360 90" fill="none" stroke="#ff0000" stroke-linecap="round" stroke-linejoin="round" stroke-width="8.84" stroke-dasharray="0 10"/></svg></g><rect x="530" y="645.4" width="155" height="155" fill="#000" filter="url(#n41)"/><g filter="url(#lf)"><svg x="530" y="645.4" width="155" height="155" viewBox="0 0 685 685" overflow="hidden"><path d="M60 100C70 96.67 96.67 81.67 120 80C143.33 78.33 178.33 85 200 90C221.67 95 235 101.67 250 110C265 118.33 283.33 135 290 140M240 160C250 156.67 280 146.67 300 140C320 133.33 340 121.67 360 120C380 118.33 400 125 420 130C440 135 461.67 141.67 480 150C498.33 158.33 521.67 175 530 180M0 400C10 396.67 40 386.67 60 380C80 373.33 100 366.67 120 360C140 353.33 160 346.67 180 340C200 333.33 223.33 326.67 240 320C256.67 313.33 273.33 303.33 280 300M80 520C91.67 511.67 130 485 150 470C170 455 181.67 441.67 200 430C218.33 418.33 240 408.33 260 400C280 391.67 296.67 385 320 380C343.33 375 376.67 370 400 370C423.33 370 440 375 460 380C480 385 510 396.67 520 400M180 440C188.33 446.67 213.33 466.67 230 480C246.67 493.33 263.33 506.67 280 520C296.67 533.33 313.33 543.33 330 560C346.67 576.67 365 599.17 380 620C395 640.83 413.33 674.17 420 685M400 470C410 466.67 440 456.67 460 450C480 443.33 496.67 431.67 520 430C543.33 428.33 576.67 433.33 600 440C623.33 446.67 650 465 660 470M650 300C651.67 310 661.67 338.33 660 360C658.33 381.67 646.67 406.67 640 430C633.33 453.33 623.33 488.33 620 500M480 200C486.67 208.33 510 233.33 520 250C530 266.67 540 283.33 540 300C540 316.67 523.33 341.67 520 350M0 230C10 228.33 40 225 60 220C80 215 110 203.33 120 200" fill="none" stroke="#ff0000" stroke-linecap="round" stroke-linejoin="round" stroke-width="8.4" stroke-dasharray="0 10"/></svg></g><g filter="url(#bf)"><svg x="530" y="645.4" width="155" height="155" viewBox="0 0 685 685" overflow="hidden"><g fill="#ff1010"><circle cx="100" cy="80" r="7"/><circle cx="330" cy="60" r="7"/><circle cx="520" cy="60" r="7"/><circle cx="600" cy="120" r="7"/><circle cx="60" cy="300" r="7"/><circle cx="200" cy="250" r="7"/><circle cx="420" cy="280" r="7"/><circle cx="600" cy="330" r="7"/><circle cx="300" cy="470" r="7"/><circle cx="560" cy="500" r="7"/><circle cx="120" cy="600" r="7"/><circle cx="350" cy="640" r="7"/><circle cx="480" cy="600" r="7"/><circle cx="640" cy="620" r="7"/><circle cx="250" cy="330" r="7"/><circle cx="40" cy="480" r="7"/><circle cx="470" cy="200" r="7"/><circle cx="160" cy="160" r="7"/><circle cx="620" cy="250" r="7"/><circle cx="380" cy="220" r="7"/></g></svg></g><text transform="translate(369,880.5) rotate(-90)" text-anchor="middle" style="font-size:13px;font-weight:bold;white-space:pre">zoom 3x</text><rect x="373" y="803" width="155" height="155" fill="#000" filter="url(#n50)"/><g filter="url(#lf)"><svg x="373" y="803" width="155" height="155" viewBox="0 0 685 685" overflow="hidden"><path d="M260 20C266.67 33.33 283.33 76.67 300 100C316.67 123.33 340 140 360 160C380 180 401.67 201.67 420 220C438.33 238.33 453.33 250 470 270C486.67 290 505 318.33 520 340C535 361.67 546.67 381.67 560 400C573.33 418.33 585 430 600 450C615 470 635.83 501.67 650 520C664.17 538.33 679.17 553.33 685 560M30 10C35 18.33 51.67 40 60 60C68.33 80 68.33 106.67 80 130C91.67 153.33 120 175 130 200C140 225 138.33 256.67 140 280C141.67 303.33 138.33 316.67 140 340C141.67 363.33 146.67 396.67 150 420C153.33 443.33 156.67 461.67 160 480C163.33 498.33 168.33 521.67 170 530M330 380C331.67 386.67 340 403.33 340 420C340 436.67 330 466.67 330 480C330 493.33 338.33 496.67 340 500M0 560C8.33 570 33.33 606.67 50 620C66.67 633.33 86.67 629.17 100 640C113.33 650.83 125 677.5 130 685M210 400C213.33 411.67 221.67 455 230 470C238.33 485 255 486.67 260 490" fill="none" stroke="#ff0000" stroke-linecap="round" stroke-linejoin="round" stroke-width="22.1" stroke-dasharray="0 30"/></svg></g><g filter="url(#bf)"><svg x="373" y="803" width="155" height="155" viewBox="0 0 685 685" overflow="hidden"><g fill="#ff1010"><circle cx="60" cy="60" r="26"/><circle cx="350" cy="160" r="26"/><circle cx="385" cy="185" r="20"/><circle cx="560" cy="390" r="22"/><circle cx="590" cy="450" r="24"/><circle cx="600" cy="10" r="16"/><circle cx="140" cy="330" r="18"/><circle cx="50" cy="630" r="32"/><circle cx="100" cy="655" r="28"/><circle cx="660" cy="540" r="20"/><circle cx="330" cy="490" r="22"/><circle cx="270" cy="25" r="18"/><circle cx="150" cy="220" r="18"/><circle cx="130" cy="340" r="16"/><circle cx="70" cy="240" r="12"/><circle cx="200" cy="520" r="12"/><circle cx="460" cy="270" r="14"/><circle cx="300" cy="420" r="12"/></g></svg></g><rect x="530" y="803" width="155" height="155" fill="#000" filter="url(#n51)"/><g filter="url(#lf)"><svg x="530" y="803" width="155" height="155" viewBox="0 0 685 685" overflow="hidden"><path d="M380 440C386.67 436.67 406.67 426.67 420 420C433.33 413.33 443.33 408.33 460 400C476.67 391.67 500 378.33 520 370C540 361.67 560 356.67 580 350C600 343.33 630 333.33 640 330M500 70C506.67 75 528.33 88.33 540 100C551.67 111.67 560 125 570 140C580 155 595 181.67 600 190" fill="none" stroke="#ff0000" stroke-linecap="round" stroke-linejoin="round" stroke-width="11.05"/></svg></g><g filter="url(#bf)"><svg x="530" y="803" width="155" height="155" viewBox="0 0 685 685" overflow="hidden"><g fill="#ff1010"><circle cx="475" cy="65" r="18"/><circle cx="530" cy="90" r="15"/><circle cx="570" cy="140" r="16"/><circle cx="345" cy="110" r="16"/><circle cx="240" cy="130" r="18"/><circle cx="140" cy="100" r="13"/><circle cx="120" cy="180" r="20"/><circle cx="30" cy="150" r="13"/><circle cx="20" cy="260" r="20"/><circle cx="600" cy="300" r="16"/><circle cx="550" cy="340" r="14"/><circle cx="490" cy="345" r="15"/><circle cx="440" cy="390" r="15"/><circle cx="390" cy="425" r="13"/><circle cx="355" cy="450" r="16"/><circle cx="160" cy="420" r="13"/><circle cx="110" cy="465" r="12"/><circle cx="240" cy="530" r="15"/><circle cx="100" cy="545" r="15"/><circle cx="440" cy="555" r="14"/><circle cx="620" cy="555" r="15"/><circle cx="640" cy="490" r="14"/><circle cx="610" cy="610" r="17"/><circle cx="80" cy="610" r="13"/><circle cx="230" cy="640" r="14"/><circle cx="290" cy="650" r="13"/><circle cx="380" cy="590" r="12"/><circle cx="300" cy="130" r="15"/><circle cx="345" cy="225" r="12"/><circle cx="200" cy="360" r="11"/><circle cx="640" cy="220" r="12"/><circle cx="420" cy="20" r="12"/><circle cx="240" cy="10" r="11"/><circle cx="520" cy="250" r="9"/><circle cx="180" cy="280" r="9"/><circle cx="60" cy="380" r="10"/><circle cx="300" cy="320" r="9"/><circle cx="520" cy="480" r="10"/><circle cx="150" cy="640" r="10"/><circle cx="560" cy="650" r="11"/><circle cx="660" cy="400" r="10"/></g></svg></g><rect x="373" y="170" width="312" height="3" fill="#fff"/><rect x="373" y="327.5" width="312" height="3" fill="#fff"/><rect x="373" y="485" width="312" height="3" fill="#fff"/><rect x="373" y="642.5" width="312" height="3" fill="#fff"/><rect x="373" y="800" width="312" height="3" fill="#fff"/><rect x="528" y="15" width="2" height="943" fill="#fff"/><line x1="493.2" y1="153.6" x2="519.2" y2="153.6" stroke="#fff" stroke-width="1.7"/><text x="506.7" y="163.6" text-anchor="middle" style="font-size:10.2px;font-weight:bold;fill:#fff">10µm</text><rect x="399.7" y="684" width="41.5" height="41" fill="none" stroke="#f0f0f0" stroke-width="1"/><rect x="598.8" y="685" width="41.3" height="40.7" fill="none" stroke="#f0f0f0" stroke-width="1"/></svg></body></html>
